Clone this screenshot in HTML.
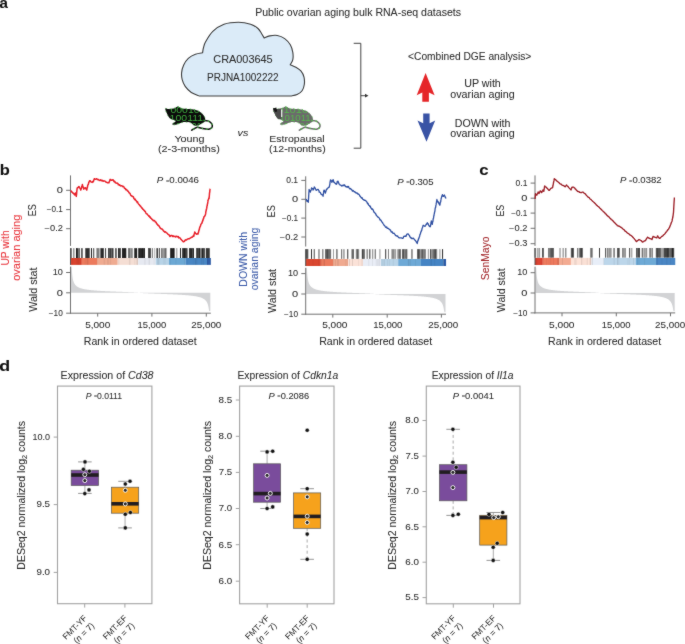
<!DOCTYPE html>
<html><head><meta charset="utf-8"><style>
html,body{margin:0;padding:0;background:#fff;overflow:hidden;width:685px;height:644px;}
svg{display:block;font-family:"Liberation Sans",sans-serif;will-change:transform;}
</style></head><body>
<svg width="685" height="644" viewBox="0 0 685 644">
<defs><filter id="soft" x="0" y="0" width="100%" height="100%" color-interpolation-filters="sRGB" filterUnits="userSpaceOnUse"><feConvolveMatrix order="3" kernelMatrix="1 2 1 2 28 2 1 2 1" edgeMode="duplicate"/></filter></defs>
<g filter="url(#soft)">
<rect width="685" height="644" fill="#fff"/>
<text x="-0.45" y="7.9" font-size="15" fill="#111" stroke="#111" stroke-width="0.06" textLength="8.42" lengthAdjust="spacingAndGlyphs" font-weight="bold">a</text>
<text x="-0.17" y="174.7" font-size="15" fill="#111" stroke="#111" stroke-width="0.06" textLength="10.04" lengthAdjust="spacingAndGlyphs" font-weight="bold">b</text>
<text x="479.23" y="174.7" font-size="15" fill="#111" stroke="#111" stroke-width="0.06" textLength="9.29" lengthAdjust="spacingAndGlyphs" font-weight="bold">c</text>
<text x="-0.71" y="370.8" font-size="15" fill="#111" stroke="#111" stroke-width="0.06" textLength="10.89" lengthAdjust="spacingAndGlyphs" font-weight="bold">d</text>
<text x="255.16" y="15.8" font-size="10.4" fill="#2c2c2c" stroke="#2c2c2c" stroke-width="0.06" textLength="205.83" lengthAdjust="spacingAndGlyphs">Public ovarian aging bulk RNA-seq datasets</text>
<path d="M199.50,96.00 C198.13,95.42 193.68,94.10 191.30,92.50 C188.92,90.90 186.72,88.53 185.20,86.40 C183.68,84.27 182.80,82.00 182.20,79.70 C181.60,77.40 181.35,75.07 181.60,72.60 C181.85,70.13 182.58,67.28 183.70,64.90 C184.82,62.52 186.35,60.08 188.30,58.30 C190.25,56.52 193.02,55.13 195.40,54.20 C197.78,53.27 201.40,52.95 202.60,52.70 L202.60,52.70 C202.73,51.92 202.88,49.85 203.40,48.00 C203.92,46.15 204.13,44.38 205.70,41.60 C207.27,38.82 209.75,34.20 212.80,31.30 C215.85,28.40 219.73,25.72 224.00,24.20 C228.27,22.68 233.97,22.20 238.40,22.20 C242.83,22.20 247.33,23.15 250.60,24.20 C253.87,25.25 256.18,26.95 258.00,28.50 C259.82,30.05 260.47,31.92 261.50,33.50 C262.53,35.08 263.75,37.25 264.20,38.00 L264.20,38.00 C265.13,37.65 267.62,36.32 269.80,35.90 C271.98,35.48 274.82,35.05 277.30,35.50 C279.78,35.95 282.53,37.05 284.70,38.60 C286.87,40.15 288.95,42.52 290.30,44.80 C291.65,47.08 292.38,49.82 292.80,52.30 C293.22,54.78 293.22,57.63 292.80,59.70 C292.38,61.77 290.72,63.87 290.30,64.70 L290.30,64.70 C291.23,65.12 294.13,66.17 295.90,67.20 C297.67,68.23 299.55,69.25 300.90,70.90 C302.25,72.55 303.43,74.83 304.00,77.10 C304.57,79.37 304.62,82.23 304.30,84.50 C303.98,86.77 303.30,89.03 302.10,90.70 C300.90,92.37 298.97,93.62 297.10,94.50 C295.23,95.38 291.93,95.75 290.90,96.00 Z" fill="#dbebf8" stroke="#3c3c3c" stroke-width="1.1"/>
<text x="213.25" y="62.6" font-size="10.0" fill="#2c2c2c" stroke="#2c2c2c" stroke-width="0.06" textLength="59.42" lengthAdjust="spacingAndGlyphs">CRA003645</text>
<text x="207.1" y="80.6" font-size="10.2" fill="#2c2c2c" stroke="#2c2c2c" stroke-width="0.06" textLength="71.41" lengthAdjust="spacingAndGlyphs">PRJNA1002222</text>
<path d="M353.7,43.3 H360.8 V148.2 H353.7" fill="none" stroke="#444" stroke-width="1"/>
<line x1="360.8" y1="95.7" x2="366" y2="95.7" stroke="#333" stroke-width="0.9"/>
<path d="M368.5,95.7 L365,93.8 L365,97.6 Z" fill="#333"/>
<path d="M425.6,73 L434.6,95.3 L428.9,92.6 L428.9,101.7 L422.3,101.7 L422.3,92.6 L416.7,95.3 Z" fill="#e52629"/>
<path d="M423.2,113.4 L429.6,113.4 L429.6,123.2 L435.2,120.6 L426.5,141.8 L417.5,120.6 L423.2,123.2 Z" fill="#3953a5"/>
<text x="408.09" y="60" font-size="10.2" fill="#2c2c2c" stroke="#2c2c2c" stroke-width="0.06" textLength="123.19" lengthAdjust="spacingAndGlyphs">&lt;Combined DGE analysis&gt;</text>
<text x="464.2" y="87.4" font-size="10.2" fill="#2c2c2c" stroke="#2c2c2c" stroke-width="0.06" textLength="36.62" lengthAdjust="spacingAndGlyphs">UP with</text>
<text x="450.27" y="97.6" font-size="10.2" fill="#2c2c2c" stroke="#2c2c2c" stroke-width="0.06" textLength="64.42" lengthAdjust="spacingAndGlyphs">ovarian aging</text>
<text x="454.75" y="126.9" font-size="10.2" fill="#2c2c2c" stroke="#2c2c2c" stroke-width="0.06" textLength="55.67" lengthAdjust="spacingAndGlyphs">DOWN with</text>
<text x="450.27" y="137.3" font-size="10.2" fill="#2c2c2c" stroke="#2c2c2c" stroke-width="0.06" textLength="64.42" lengthAdjust="spacingAndGlyphs">ovarian aging</text>
<defs><clipPath id="rat1"><path d="M165.50,108.40 C165.85,108.22 166.85,108.80 167.60,108.90 C168.35,109.00 169.00,109.07 170.00,109.00 C171.00,108.93 172.57,108.80 173.60,108.50 C174.63,108.20 175.50,107.53 176.20,107.20 C176.90,106.87 177.25,106.52 177.80,106.50 C178.35,106.48 178.83,106.78 179.50,107.10 C180.17,107.42 180.78,108.13 181.80,108.40 C182.82,108.67 183.65,108.53 185.60,108.70 C187.55,108.87 191.52,109.08 193.50,109.40 C195.48,109.72 196.18,110.00 197.50,110.60 C198.82,111.20 200.33,112.13 201.40,113.00 C202.47,113.87 203.27,114.83 203.90,115.80 C204.53,116.77 205.05,117.87 205.20,118.80 C205.35,119.73 205.17,120.73 204.80,121.40 C204.43,122.07 203.77,122.30 203.00,122.80 C202.23,123.30 201.10,123.93 200.20,124.40 C199.30,124.87 198.57,125.42 197.60,125.60 C196.63,125.78 195.23,125.73 194.40,125.50 C193.57,125.27 193.30,124.68 192.60,124.20 C191.90,123.72 191.30,122.95 190.20,122.60 C189.10,122.25 187.37,122.13 186.00,122.10 C184.63,122.07 183.13,122.17 182.00,122.40 C180.87,122.63 180.10,123.13 179.20,123.50 C178.30,123.87 177.60,124.38 176.60,124.60 C175.60,124.82 173.93,124.88 173.20,124.80 C172.47,124.72 172.15,124.40 172.20,124.10 C172.25,123.80 172.97,123.38 173.50,123.00 C174.03,122.62 175.12,122.22 175.40,121.80 C175.68,121.38 175.67,120.87 175.20,120.50 C174.73,120.13 173.47,119.95 172.60,119.60 C171.73,119.25 170.77,119.03 170.00,118.40 C169.23,117.77 168.58,116.77 168.00,115.80 C167.42,114.83 166.92,113.57 166.50,112.60 C166.08,111.63 165.67,110.70 165.50,110.00 C165.33,109.30 165.15,108.58 165.50,108.40 Z"/></clipPath><clipPath id="rat2"><path d="M165.50,108.40 C165.85,108.22 166.85,108.80 167.60,108.90 C168.35,109.00 169.00,109.07 170.00,109.00 C171.00,108.93 172.57,108.80 173.60,108.50 C174.63,108.20 175.50,107.53 176.20,107.20 C176.90,106.87 177.25,106.52 177.80,106.50 C178.35,106.48 178.83,106.78 179.50,107.10 C180.17,107.42 180.78,108.13 181.80,108.40 C182.82,108.67 183.65,108.53 185.60,108.70 C187.55,108.87 191.52,109.08 193.50,109.40 C195.48,109.72 196.18,110.00 197.50,110.60 C198.82,111.20 200.33,112.13 201.40,113.00 C202.47,113.87 203.27,114.83 203.90,115.80 C204.53,116.77 205.05,117.87 205.20,118.80 C205.35,119.73 205.17,120.73 204.80,121.40 C204.43,122.07 203.77,122.30 203.00,122.80 C202.23,123.30 201.10,123.93 200.20,124.40 C199.30,124.87 198.57,125.42 197.60,125.60 C196.63,125.78 195.23,125.73 194.40,125.50 C193.57,125.27 193.30,124.68 192.60,124.20 C191.90,123.72 191.30,122.95 190.20,122.60 C189.10,122.25 187.37,122.13 186.00,122.10 C184.63,122.07 183.13,122.17 182.00,122.40 C180.87,122.63 180.10,123.13 179.20,123.50 C178.30,123.87 177.60,124.38 176.60,124.60 C175.60,124.82 173.93,124.88 173.20,124.80 C172.47,124.72 172.15,124.40 172.20,124.10 C172.25,123.80 172.97,123.38 173.50,123.00 C174.03,122.62 175.12,122.22 175.40,121.80 C175.68,121.38 175.67,120.87 175.20,120.50 C174.73,120.13 173.47,119.95 172.60,119.60 C171.73,119.25 170.77,119.03 170.00,118.40 C169.23,117.77 168.58,116.77 168.00,115.80 C167.42,114.83 166.92,113.57 166.50,112.60 C166.08,111.63 165.67,110.70 165.50,110.00 C165.33,109.30 165.15,108.58 165.50,108.40 Z" transform="translate(107.7,0)"/></clipPath></defs>
<g transform="translate(0,0)"><path d="M165.50,108.40 C165.85,108.22 166.85,108.80 167.60,108.90 C168.35,109.00 169.00,109.07 170.00,109.00 C171.00,108.93 172.57,108.80 173.60,108.50 C174.63,108.20 175.50,107.53 176.20,107.20 C176.90,106.87 177.25,106.52 177.80,106.50 C178.35,106.48 178.83,106.78 179.50,107.10 C180.17,107.42 180.78,108.13 181.80,108.40 C182.82,108.67 183.65,108.53 185.60,108.70 C187.55,108.87 191.52,109.08 193.50,109.40 C195.48,109.72 196.18,110.00 197.50,110.60 C198.82,111.20 200.33,112.13 201.40,113.00 C202.47,113.87 203.27,114.83 203.90,115.80 C204.53,116.77 205.05,117.87 205.20,118.80 C205.35,119.73 205.17,120.73 204.80,121.40 C204.43,122.07 203.77,122.30 203.00,122.80 C202.23,123.30 201.10,123.93 200.20,124.40 C199.30,124.87 198.57,125.42 197.60,125.60 C196.63,125.78 195.23,125.73 194.40,125.50 C193.57,125.27 193.30,124.68 192.60,124.20 C191.90,123.72 191.30,122.95 190.20,122.60 C189.10,122.25 187.37,122.13 186.00,122.10 C184.63,122.07 183.13,122.17 182.00,122.40 C180.87,122.63 180.10,123.13 179.20,123.50 C178.30,123.87 177.60,124.38 176.60,124.60 C175.60,124.82 173.93,124.88 173.20,124.80 C172.47,124.72 172.15,124.40 172.20,124.10 C172.25,123.80 172.97,123.38 173.50,123.00 C174.03,122.62 175.12,122.22 175.40,121.80 C175.68,121.38 175.67,120.87 175.20,120.50 C174.73,120.13 173.47,119.95 172.60,119.60 C171.73,119.25 170.77,119.03 170.00,118.40 C169.23,117.77 168.58,116.77 168.00,115.80 C167.42,114.83 166.92,113.57 166.50,112.60 C166.08,111.63 165.67,110.70 165.50,110.00 C165.33,109.30 165.15,108.58 165.50,108.40 Z" fill="#0b0b0b"/><path d="M203.50,120.30 C204.20,120.40 206.47,120.50 207.70,120.90 C208.93,121.30 210.13,121.95 210.90,122.70 C211.67,123.45 212.17,124.55 212.30,125.40 C212.43,126.25 212.15,127.22 211.70,127.80 C211.25,128.38 210.53,128.68 209.60,128.90 C208.67,129.12 207.47,129.20 206.10,129.10 C204.73,129.00 202.83,128.60 201.40,128.30 C199.97,128.00 198.65,127.27 197.50,127.30 C196.35,127.33 195.48,128.02 194.50,128.50 C193.52,128.98 192.08,129.92 191.60,130.20" fill="none" stroke="#0b0b0b" stroke-width="1.5" stroke-linecap="round"/><path d="M203.50,120.30 C204.20,120.40 206.47,120.50 207.70,120.90 C208.93,121.30 210.13,121.95 210.90,122.70 C211.67,123.45 212.17,124.55 212.30,125.40 C212.43,126.25 212.15,127.22 211.70,127.80 C211.25,128.38 210.53,128.68 209.60,128.90 C208.67,129.12 207.47,129.20 206.10,129.10 C204.73,129.00 202.83,128.60 201.40,128.30 C199.97,128.00 198.65,127.27 197.50,127.30 C196.35,127.33 195.48,128.02 194.50,128.50 C193.52,128.98 192.08,129.92 191.60,130.20" fill="none" stroke="#40b040" stroke-width="1.5" stroke-dasharray="1.3 3.2"/><path d="M165.50,108.40 C165.85,108.22 166.85,108.80 167.60,108.90 C168.35,109.00 169.00,109.07 170.00,109.00 C171.00,108.93 172.57,108.80 173.60,108.50 C174.63,108.20 175.50,107.53 176.20,107.20 C176.90,106.87 177.25,106.52 177.80,106.50 C178.35,106.48 178.83,106.78 179.50,107.10 C180.17,107.42 180.78,108.13 181.80,108.40 C182.82,108.67 183.65,108.53 185.60,108.70 C187.55,108.87 191.52,109.08 193.50,109.40 C195.48,109.72 196.18,110.00 197.50,110.60 C198.82,111.20 200.33,112.13 201.40,113.00 C202.47,113.87 203.27,114.83 203.90,115.80 C204.53,116.77 205.05,117.87 205.20,118.80 C205.35,119.73 205.17,120.73 204.80,121.40 C204.43,122.07 203.77,122.30 203.00,122.80 C202.23,123.30 201.10,123.93 200.20,124.40 C199.30,124.87 198.57,125.42 197.60,125.60 C196.63,125.78 195.23,125.73 194.40,125.50 C193.57,125.27 193.30,124.68 192.60,124.20 C191.90,123.72 191.30,122.95 190.20,122.60 C189.10,122.25 187.37,122.13 186.00,122.10 C184.63,122.07 183.13,122.17 182.00,122.40 C180.87,122.63 180.10,123.13 179.20,123.50 C178.30,123.87 177.60,124.38 176.60,124.60 C175.60,124.82 173.93,124.88 173.20,124.80 C172.47,124.72 172.15,124.40 172.20,124.10 C172.25,123.80 172.97,123.38 173.50,123.00 C174.03,122.62 175.12,122.22 175.40,121.80 C175.68,121.38 175.67,120.87 175.20,120.50 C174.73,120.13 173.47,119.95 172.60,119.60 C171.73,119.25 170.77,119.03 170.00,118.40 C169.23,117.77 168.58,116.77 168.00,115.80 C167.42,114.83 166.92,113.57 166.50,112.60 C166.08,111.63 165.67,110.70 165.50,110.00 C165.33,109.30 165.15,108.58 165.50,108.40 Z" fill="none" stroke="#40b040" stroke-width="0.7" stroke-dasharray="1.4 2.8"/></g>
<g clip-path="url(#rat1)" fill="#40b040" stroke="#0b0b0b" stroke-width="0.05" font-size="9.4"><text x="170.5" y="113.0" textLength="29" lengthAdjust="spacingAndGlyphs">00010</text><text x="169.6" y="120.8" textLength="33.6" lengthAdjust="spacingAndGlyphs">100111</text><text x="176" y="128.8" textLength="36" lengthAdjust="spacingAndGlyphs">0100101</text></g>
<g transform="translate(107.7,0)"><path d="M165.50,108.40 C165.85,108.22 166.85,108.80 167.60,108.90 C168.35,109.00 169.00,109.07 170.00,109.00 C171.00,108.93 172.57,108.80 173.60,108.50 C174.63,108.20 175.50,107.53 176.20,107.20 C176.90,106.87 177.25,106.52 177.80,106.50 C178.35,106.48 178.83,106.78 179.50,107.10 C180.17,107.42 180.78,108.13 181.80,108.40 C182.82,108.67 183.65,108.53 185.60,108.70 C187.55,108.87 191.52,109.08 193.50,109.40 C195.48,109.72 196.18,110.00 197.50,110.60 C198.82,111.20 200.33,112.13 201.40,113.00 C202.47,113.87 203.27,114.83 203.90,115.80 C204.53,116.77 205.05,117.87 205.20,118.80 C205.35,119.73 205.17,120.73 204.80,121.40 C204.43,122.07 203.77,122.30 203.00,122.80 C202.23,123.30 201.10,123.93 200.20,124.40 C199.30,124.87 198.57,125.42 197.60,125.60 C196.63,125.78 195.23,125.73 194.40,125.50 C193.57,125.27 193.30,124.68 192.60,124.20 C191.90,123.72 191.30,122.95 190.20,122.60 C189.10,122.25 187.37,122.13 186.00,122.10 C184.63,122.07 183.13,122.17 182.00,122.40 C180.87,122.63 180.10,123.13 179.20,123.50 C178.30,123.87 177.60,124.38 176.60,124.60 C175.60,124.82 173.93,124.88 173.20,124.80 C172.47,124.72 172.15,124.40 172.20,124.10 C172.25,123.80 172.97,123.38 173.50,123.00 C174.03,122.62 175.12,122.22 175.40,121.80 C175.68,121.38 175.67,120.87 175.20,120.50 C174.73,120.13 173.47,119.95 172.60,119.60 C171.73,119.25 170.77,119.03 170.00,118.40 C169.23,117.77 168.58,116.77 168.00,115.80 C167.42,114.83 166.92,113.57 166.50,112.60 C166.08,111.63 165.67,110.70 165.50,110.00 C165.33,109.30 165.15,108.58 165.50,108.40 Z" fill="#6b6b6b"/><path d="M203.50,120.30 C204.20,120.40 206.47,120.50 207.70,120.90 C208.93,121.30 210.13,121.95 210.90,122.70 C211.67,123.45 212.17,124.55 212.30,125.40 C212.43,126.25 212.15,127.22 211.70,127.80 C211.25,128.38 210.53,128.68 209.60,128.90 C208.67,129.12 207.47,129.20 206.10,129.10 C204.73,129.00 202.83,128.60 201.40,128.30 C199.97,128.00 198.65,127.27 197.50,127.30 C196.35,127.33 195.48,128.02 194.50,128.50 C193.52,128.98 192.08,129.92 191.60,130.20" fill="none" stroke="#6b6b6b" stroke-width="1.5" stroke-linecap="round"/><path d="M203.50,120.30 C204.20,120.40 206.47,120.50 207.70,120.90 C208.93,121.30 210.13,121.95 210.90,122.70 C211.67,123.45 212.17,124.55 212.30,125.40 C212.43,126.25 212.15,127.22 211.70,127.80 C211.25,128.38 210.53,128.68 209.60,128.90 C208.67,129.12 207.47,129.20 206.10,129.10 C204.73,129.00 202.83,128.60 201.40,128.30 C199.97,128.00 198.65,127.27 197.50,127.30 C196.35,127.33 195.48,128.02 194.50,128.50 C193.52,128.98 192.08,129.92 191.60,130.20" fill="none" stroke="#55c04b" stroke-width="1.5" stroke-dasharray="1.3 3.2"/><path d="M165.50,108.40 C165.85,108.22 166.85,108.80 167.60,108.90 C168.35,109.00 169.00,109.07 170.00,109.00 C171.00,108.93 172.57,108.80 173.60,108.50 C174.63,108.20 175.50,107.53 176.20,107.20 C176.90,106.87 177.25,106.52 177.80,106.50 C178.35,106.48 178.83,106.78 179.50,107.10 C180.17,107.42 180.78,108.13 181.80,108.40 C182.82,108.67 183.65,108.53 185.60,108.70 C187.55,108.87 191.52,109.08 193.50,109.40 C195.48,109.72 196.18,110.00 197.50,110.60 C198.82,111.20 200.33,112.13 201.40,113.00 C202.47,113.87 203.27,114.83 203.90,115.80 C204.53,116.77 205.05,117.87 205.20,118.80 C205.35,119.73 205.17,120.73 204.80,121.40 C204.43,122.07 203.77,122.30 203.00,122.80 C202.23,123.30 201.10,123.93 200.20,124.40 C199.30,124.87 198.57,125.42 197.60,125.60 C196.63,125.78 195.23,125.73 194.40,125.50 C193.57,125.27 193.30,124.68 192.60,124.20 C191.90,123.72 191.30,122.95 190.20,122.60 C189.10,122.25 187.37,122.13 186.00,122.10 C184.63,122.07 183.13,122.17 182.00,122.40 C180.87,122.63 180.10,123.13 179.20,123.50 C178.30,123.87 177.60,124.38 176.60,124.60 C175.60,124.82 173.93,124.88 173.20,124.80 C172.47,124.72 172.15,124.40 172.20,124.10 C172.25,123.80 172.97,123.38 173.50,123.00 C174.03,122.62 175.12,122.22 175.40,121.80 C175.68,121.38 175.67,120.87 175.20,120.50 C174.73,120.13 173.47,119.95 172.60,119.60 C171.73,119.25 170.77,119.03 170.00,118.40 C169.23,117.77 168.58,116.77 168.00,115.80 C167.42,114.83 166.92,113.57 166.50,112.60 C166.08,111.63 165.67,110.70 165.50,110.00 C165.33,109.30 165.15,108.58 165.50,108.40 Z" fill="none" stroke="#55c04b" stroke-width="0.7" stroke-dasharray="1.4 2.8"/></g>
<g clip-path="url(#rat2)" fill="#55c04b" stroke="#6b6b6b" stroke-width="0.1" font-size="9.4"><text x="277.2" y="112.8" textLength="31" lengthAdjust="spacingAndGlyphs">01010</text><text x="279.2" y="120.8" textLength="31.5" lengthAdjust="spacingAndGlyphs">101011</text><text x="283.7" y="128.8" textLength="36" lengthAdjust="spacingAndGlyphs">0010110</text></g>
<g clip-path="url(#rat2)"><path d="M272,106 L281.2,106 L281.2,119 L272,119 Z" fill="#4a4a4a"/></g>
<rect x="281.0" y="109.4" width="1.3" height="7.6" fill="#e8e8e8"/>
<path d="M273.1,108.4 L276.3,107.4 L277.2,111.5 L275,112 Z" fill="#151515"/>
<text x="174.43" y="141.9" font-size="9.3" fill="#2c2c2c" stroke="#2c2c2c" stroke-width="0.06" textLength="30.17" lengthAdjust="spacingAndGlyphs">Young</text>
<text x="157.95" y="151.8" font-size="9.3" fill="#2c2c2c" stroke="#2c2c2c" stroke-width="0.06" textLength="61.94" lengthAdjust="spacingAndGlyphs">(2-3-months)</text>
<text x="237.61" y="135.6" font-size="9.6" fill="#2c2c2c" stroke="#2c2c2c" stroke-width="0.06" textLength="10.7" lengthAdjust="spacingAndGlyphs" font-style="italic">vs</text>
<text x="269.36" y="141.9" font-size="9.3" fill="#2c2c2c" stroke="#2c2c2c" stroke-width="0.06" textLength="55.33" lengthAdjust="spacingAndGlyphs">Estropausal</text>
<text x="268.97" y="151.8" font-size="9.3" fill="#2c2c2c" stroke="#2c2c2c" stroke-width="0.06" textLength="56.67" lengthAdjust="spacingAndGlyphs">(12-months)</text>
<line x1="70.5" y1="175.4" x2="70.5" y2="245.9" stroke="#707070" stroke-width="1"/>
<line x1="66.1" y1="190.3" x2="70.5" y2="190.3" stroke="#707070" stroke-width="1"/>
<text x="56.76" y="193.05" font-size="8.3" fill="#2c2c2c" stroke="#2c2c2c" stroke-width="0.06" textLength="6.14" lengthAdjust="spacingAndGlyphs">0</text>
<line x1="66.1" y1="209.6" x2="70.5" y2="209.6" stroke="#707070" stroke-width="1"/>
<text x="46.79" y="212.35" font-size="8.3" fill="#2c2c2c" stroke="#2c2c2c" stroke-width="0.06" textLength="16.07" lengthAdjust="spacingAndGlyphs">−0.1</text>
<line x1="66.1" y1="228.7" x2="70.5" y2="228.7" stroke="#707070" stroke-width="1"/>
<text x="44.64" y="231.45" font-size="8.3" fill="#2c2c2c" stroke="#2c2c2c" stroke-width="0.06" textLength="18.32" lengthAdjust="spacingAndGlyphs">−0.2</text>
<path d="M70.60,190.40 L71.10,191.01 L71.60,192.02 L72.10,192.09 L72.60,192.61 L73.10,193.26 L73.60,193.34 L74.10,194.21 L74.60,194.95 L75.00,194.52 L75.40,193.07 L75.62,193.85 L75.85,194.26 L76.08,195.74 L76.30,196.38 L76.37,194.98 L76.44,195.39 L76.51,194.91 L76.58,193.95 L76.65,193.24 L76.72,192.07 L76.78,191.21 L76.85,191.18 L76.92,190.09 L76.99,189.57 L77.06,189.04 L77.13,188.19 L77.20,188.06 L77.62,187.66 L78.05,187.70 L78.48,186.93 L78.90,186.58 L79.26,187.05 L79.62,187.84 L79.98,188.24 L80.34,188.61 L80.70,190.06 L80.94,189.55 L81.19,188.75 L81.43,187.94 L81.67,186.81 L81.91,186.01 L82.16,185.42 L82.40,184.54 L82.63,185.92 L82.87,186.18 L83.10,187.25 L83.33,187.36 L83.57,188.55 L83.80,189.10 L84.65,187.88 L85.50,187.77 L85.93,189.06 L86.37,189.09 L86.80,190.08 L86.96,188.81 L87.12,187.68 L87.29,187.63 L87.45,187.25 L87.61,186.03 L87.77,185.07 L87.94,184.67 L88.10,184.81 L88.40,184.10 L88.70,182.73 L89.00,182.19 L89.30,181.43 L89.60,180.78 L89.90,181.07 L90.33,180.88 L90.75,181.67 L91.17,182.01 L91.60,182.12 L92.20,182.42 L92.80,181.49 L93.40,181.71 L93.62,180.51 L93.85,180.14 L94.08,179.28 L94.30,178.67 L95.15,179.32 L96.00,179.04 L96.65,178.76 L97.30,179.69 L97.95,179.29 L98.60,179.73 L99.27,180.40 L99.95,180.33 L100.62,179.75 L101.30,180.82 L101.88,180.25 L102.47,180.40 L103.05,181.23 L103.63,181.00 L104.22,181.11 L104.80,181.05 L105.37,181.33 L105.93,182.21 L106.50,182.19 L107.23,182.71 L107.97,182.62 L108.70,182.82 L108.96,182.84 L109.22,181.76 L109.48,181.20 L109.74,180.95 L110.00,179.59 L110.67,179.44 L111.35,180.32 L112.03,180.34 L112.70,179.67 L113.22,179.93 L113.74,181.01 L114.26,181.78 L114.78,181.38 L115.30,182.60 L115.80,183.00 L116.30,183.05 L116.80,183.15 L117.30,183.10 L117.80,183.33 L118.30,184.79 L118.80,184.46 L119.34,185.16 L119.89,184.95 L120.43,185.82 L120.98,185.89 L121.52,185.76 L122.07,185.81 L122.61,186.69 L123.16,186.26 L123.70,186.60 L124.13,187.47 L124.56,188.35 L124.99,188.59 L125.42,188.61 L125.85,189.77 L126.28,189.48 L126.72,189.61 L127.15,190.32 L127.58,191.03 L128.01,191.07 L128.44,191.61 L128.87,192.31 L129.30,193.05 L129.72,193.03 L130.13,193.70 L130.55,194.83 L130.97,195.51 L131.38,195.62 L131.80,196.07 L132.22,196.41 L132.63,196.32 L133.05,196.58 L133.47,197.00 L133.88,198.52 L134.30,198.90 L134.72,199.67 L135.13,199.05 L135.55,200.09 L135.97,200.46 L136.38,201.21 L136.80,201.22 L137.18,202.44 L137.56,201.91 L137.95,202.80 L138.33,203.56 L138.71,204.26 L139.09,204.57 L139.47,204.98 L139.85,205.54 L140.24,206.17 L140.62,205.99 L141.00,206.76 L141.38,207.53 L141.76,208.01 L142.15,207.93 L142.53,208.77 L142.91,209.38 L143.29,209.52 L143.67,210.00 L144.05,210.18 L144.44,210.85 L144.82,211.37 L145.20,211.22 L145.60,212.26 L146.00,213.23 L146.40,213.64 L146.80,213.91 L147.20,213.94 L147.60,214.76 L148.00,215.09 L148.40,215.36 L148.80,216.28 L149.20,215.90 L149.60,217.04 L150.00,216.74 L150.40,217.78 L150.80,218.18 L151.31,218.28 L151.82,219.21 L152.33,219.46 L152.84,219.99 L153.36,220.78 L153.87,220.45 L154.38,220.46 L154.89,221.16 L155.40,222.06 L155.80,222.04 L156.20,222.40 L156.60,223.73 L157.00,224.04 L157.40,224.23 L157.80,225.19 L158.20,225.06 L158.60,225.85 L159.00,225.81 L159.40,226.48 L159.80,227.43 L160.20,228.11 L160.60,228.57 L161.00,228.44 L161.47,228.97 L161.93,229.06 L162.40,229.18 L162.87,229.96 L163.33,230.81 L163.80,231.28 L164.27,231.51 L164.73,232.16 L165.20,231.77 L165.67,231.91 L166.13,232.59 L166.60,232.81 L167.09,233.10 L167.57,233.71 L168.06,234.38 L168.54,234.65 L169.03,234.81 L169.51,235.79 L170.00,236.43 L170.62,235.92 L171.23,235.46 L171.85,235.41 L172.47,236.49 L173.08,235.72 L173.70,236.48 L174.37,236.54 L175.04,236.34 L175.71,237.00 L176.39,236.28 L177.06,236.43 L177.73,236.94 L178.40,236.61 L178.87,237.89 L179.33,237.70 L179.80,237.88 L180.27,238.12 L180.73,239.18 L181.20,239.45 L181.67,240.03 L182.13,240.47 L182.60,241.05 L183.07,241.64 L183.53,241.73 L184.00,241.49 L184.45,241.27 L184.90,240.50 L185.35,239.80 L185.80,239.87 L186.50,239.99 L187.20,239.15 L187.90,238.92 L188.60,238.77 L189.16,238.84 L189.72,238.33 L190.28,238.07 L190.84,237.89 L191.40,237.12 L192.00,237.19 L192.60,237.04 L193.20,235.74 L193.80,236.26 L193.95,235.52 L194.10,234.17 L194.25,233.84 L194.40,233.47 L194.55,233.23 L194.70,232.03 L195.17,232.64 L195.63,233.50 L196.10,233.93 L196.73,234.23 L197.37,233.81 L198.00,234.09 L198.15,232.99 L198.30,232.95 L198.45,232.56 L198.60,231.80 L198.75,231.28 L198.90,230.10 L199.05,230.25 L199.20,229.88 L199.35,229.32 L199.50,228.21 L199.65,227.85 L199.80,226.74 L200.10,226.79 L200.40,226.25 L200.70,225.07 L201.00,224.08 L201.30,223.88 L201.60,223.49 L201.90,223.20 L202.20,222.33 L202.40,221.17 L202.60,221.45 L202.80,220.12 L203.00,220.32 L203.20,219.12 L203.40,218.65 L203.60,218.64 L203.80,217.38 L204.00,216.72 L204.28,216.59 L204.56,216.34 L204.84,215.97 L205.12,215.25 L205.40,214.98 L205.53,213.84 L205.65,213.68 L205.78,212.08 L205.91,211.46 L206.04,211.19 L206.16,210.33 L206.29,210.18 L206.42,209.51 L206.55,208.73 L206.67,208.46 L206.80,207.54 L206.92,206.57 L207.03,205.98 L207.15,205.91 L207.27,205.44 L207.38,204.01 L207.50,204.03 L207.62,203.64 L207.73,202.52 L207.85,201.88 L207.97,200.81 L208.08,200.52 L208.20,199.90 L208.50,199.39 L208.80,198.09 L209.10,198.48 L209.16,197.48 L209.21,196.67 L209.27,196.51 L209.32,195.68 L209.38,194.95 L209.43,194.56 L209.49,193.24 L209.54,193.08 L209.60,192.39 L209.68,192.40 L209.77,191.82 L209.85,190.41 L209.93,189.91 L210.02,188.88 L210.10,188.70" fill="none" stroke="#e8202a" stroke-width="1.5" stroke-linejoin="round"/>
<rect x="70.7" y="248.2" width="0.8" height="9.8" fill="#262626"/>
<rect x="70.7" y="248.2" width="0.6" height="9.8" fill="#5a5a5a"/>
<rect x="73.4" y="248.2" width="1.1" height="9.8" fill="#8c8c8c"/>
<rect x="73.4" y="248.2" width="0.4" height="9.8" fill="#666666"/>
<rect x="76.1" y="248.2" width="2.2" height="9.8" fill="#262626"/>
<rect x="76.1" y="248.2" width="0.8" height="9.8" fill="#101010"/>
<rect x="77.8" y="248.2" width="0.4" height="9.8" fill="#707070"/>
<rect x="78.8" y="248.2" width="0.8" height="9.8" fill="#262626"/>
<rect x="78.8" y="248.2" width="0.4" height="9.8" fill="#181818"/>
<rect x="81.5" y="248.2" width="1.1" height="9.8" fill="#262626"/>
<rect x="81.5" y="248.2" width="0.4" height="9.8" fill="#101010"/>
<rect x="85.3" y="248.2" width="4.3" height="9.8" fill="#262626"/>
<rect x="85.3" y="248.2" width="0.6" height="9.8" fill="#707070"/>
<rect x="86.8" y="248.2" width="0.4" height="9.8" fill="#5a5a5a"/>
<rect x="88.4" y="248.2" width="0.4" height="9.8" fill="#444444"/>
<rect x="89.1" y="248.2" width="0.5" height="9.8" fill="#5a5a5a"/>
<rect x="91.2" y="248.2" width="0.8" height="9.8" fill="#262626"/>
<rect x="91.2" y="248.2" width="0.8" height="9.8" fill="#181818"/>
<rect x="93.4" y="248.2" width="0.8" height="9.8" fill="#262626"/>
<rect x="93.4" y="248.2" width="0.4" height="9.8" fill="#444444"/>
<rect x="96.1" y="248.2" width="3.2" height="9.8" fill="#8c8c8c"/>
<rect x="96.1" y="248.2" width="0.8" height="9.8" fill="#b8b8b8"/>
<rect x="97.5" y="248.2" width="0.8" height="9.8" fill="#666666"/>
<rect x="98.9" y="248.2" width="0.4" height="9.8" fill="#666666"/>
<rect x="100.4" y="248.2" width="3.2" height="9.8" fill="#262626"/>
<rect x="100.4" y="248.2" width="0.4" height="9.8" fill="#707070"/>
<rect x="101.7" y="248.2" width="0.4" height="9.8" fill="#303030"/>
<rect x="103" y="248.2" width="0.4" height="9.8" fill="#181818"/>
<rect x="105.3" y="248.2" width="0.8" height="9.8" fill="#262626"/>
<rect x="105.3" y="248.2" width="0.4" height="9.8" fill="#181818"/>
<rect x="108" y="248.2" width="5.4" height="9.8" fill="#262626"/>
<rect x="108" y="248.2" width="0.4" height="9.8" fill="#707070"/>
<rect x="108.7" y="248.2" width="0.6" height="9.8" fill="#444444"/>
<rect x="109.6" y="248.2" width="0.6" height="9.8" fill="#909090"/>
<rect x="111.4" y="248.2" width="0.8" height="9.8" fill="#909090"/>
<rect x="112.8" y="248.2" width="0.4" height="9.8" fill="#444444"/>
<rect x="115.5" y="248.2" width="1.1" height="9.8" fill="#262626"/>
<rect x="115.5" y="248.2" width="0.4" height="9.8" fill="#181818"/>
<rect x="118.2" y="248.2" width="2.7" height="9.8" fill="#262626"/>
<rect x="118.2" y="248.2" width="0.6" height="9.8" fill="#101010"/>
<rect x="119.7" y="248.2" width="0.8" height="9.8" fill="#707070"/>
<rect x="122" y="248.2" width="4.3" height="9.8" fill="#262626"/>
<rect x="122" y="248.2" width="0.4" height="9.8" fill="#444444"/>
<rect x="122.7" y="248.2" width="0.4" height="9.8" fill="#101010"/>
<rect x="124.3" y="248.2" width="0.4" height="9.8" fill="#181818"/>
<rect x="125.3" y="248.2" width="0.4" height="9.8" fill="#181818"/>
<rect x="128" y="248.2" width="4.8" height="9.8" fill="#8c8c8c"/>
<rect x="128" y="248.2" width="0.4" height="9.8" fill="#808080"/>
<rect x="128.7" y="248.2" width="0.8" height="9.8" fill="#505050"/>
<rect x="130.1" y="248.2" width="0.8" height="9.8" fill="#a0a0a0"/>
<rect x="131.2" y="248.2" width="0.4" height="9.8" fill="#808080"/>
<rect x="134.4" y="248.2" width="2.7" height="9.8" fill="#262626"/>
<rect x="134.4" y="248.2" width="0.6" height="9.8" fill="#444444"/>
<rect x="135.9" y="248.2" width="0.6" height="9.8" fill="#181818"/>
<rect x="138.2" y="248.2" width="6.7" height="9.8" fill="#262626"/>
<rect x="138.2" y="248.2" width="0.4" height="9.8" fill="#707070"/>
<rect x="138.9" y="248.2" width="0.4" height="9.8" fill="#181818"/>
<rect x="140.5" y="248.2" width="0.6" height="9.8" fill="#303030"/>
<rect x="142" y="248.2" width="0.6" height="9.8" fill="#181818"/>
<rect x="143.2" y="248.2" width="0.4" height="9.8" fill="#5a5a5a"/>
<rect x="143.9" y="248.2" width="0.6" height="9.8" fill="#101010"/>
<rect x="148.1" y="248.2" width="2.7" height="9.8" fill="#262626"/>
<rect x="148.1" y="248.2" width="0.8" height="9.8" fill="#5a5a5a"/>
<rect x="149.5" y="248.2" width="0.8" height="9.8" fill="#5a5a5a"/>
<rect x="151.9" y="248.2" width="1.1" height="9.8" fill="#8c8c8c"/>
<rect x="151.9" y="248.2" width="0.6" height="9.8" fill="#808080"/>
<rect x="154" y="248.2" width="1.1" height="9.8" fill="#8c8c8c"/>
<rect x="154" y="248.2" width="0.8" height="9.8" fill="#cccccc"/>
<rect x="156.7" y="248.2" width="1.1" height="9.8" fill="#262626"/>
<rect x="156.7" y="248.2" width="0.6" height="9.8" fill="#181818"/>
<rect x="158.9" y="248.2" width="1.1" height="9.8" fill="#262626"/>
<rect x="158.9" y="248.2" width="0.8" height="9.8" fill="#707070"/>
<rect x="161.1" y="248.2" width="5.9" height="9.8" fill="#8c8c8c"/>
<rect x="161.1" y="248.2" width="0.6" height="9.8" fill="#666666"/>
<rect x="162.9" y="248.2" width="0.4" height="9.8" fill="#cccccc"/>
<rect x="163.9" y="248.2" width="0.4" height="9.8" fill="#808080"/>
<rect x="165.2" y="248.2" width="0.6" height="9.8" fill="#505050"/>
<rect x="166.1" y="248.2" width="0.6" height="9.8" fill="#cccccc"/>
<rect x="170.2" y="248.2" width="4.4" height="9.8" fill="#262626"/>
<rect x="170.2" y="248.2" width="0.4" height="9.8" fill="#303030"/>
<rect x="171.5" y="248.2" width="0.6" height="9.8" fill="#181818"/>
<rect x="173.3" y="248.2" width="0.8" height="9.8" fill="#181818"/>
<rect x="176.2" y="248.2" width="1.1" height="9.8" fill="#8c8c8c"/>
<rect x="176.2" y="248.2" width="0.6" height="9.8" fill="#b8b8b8"/>
<rect x="180" y="248.2" width="0.8" height="9.8" fill="#262626"/>
<rect x="180" y="248.2" width="0.8" height="9.8" fill="#181818"/>
<rect x="182.1" y="248.2" width="5.4" height="9.8" fill="#262626"/>
<rect x="182.1" y="248.2" width="0.6" height="9.8" fill="#5a5a5a"/>
<rect x="183" y="248.2" width="0.4" height="9.8" fill="#5a5a5a"/>
<rect x="183.7" y="248.2" width="0.8" height="9.8" fill="#181818"/>
<rect x="185.4" y="248.2" width="0.6" height="9.8" fill="#444444"/>
<rect x="186.3" y="248.2" width="0.4" height="9.8" fill="#707070"/>
<rect x="189.2" y="248.2" width="4.8" height="9.8" fill="#262626"/>
<rect x="189.2" y="248.2" width="0.4" height="9.8" fill="#101010"/>
<rect x="190.5" y="248.2" width="0.6" height="9.8" fill="#303030"/>
<rect x="192" y="248.2" width="0.8" height="9.8" fill="#5a5a5a"/>
<rect x="196.2" y="248.2" width="4.3" height="9.8" fill="#262626"/>
<rect x="196.2" y="248.2" width="0.8" height="9.8" fill="#5a5a5a"/>
<rect x="197.3" y="248.2" width="0.8" height="9.8" fill="#444444"/>
<rect x="198.4" y="248.2" width="0.8" height="9.8" fill="#5a5a5a"/>
<rect x="199.5" y="248.2" width="0.6" height="9.8" fill="#181818"/>
<rect x="201.6" y="248.2" width="3.2" height="9.8" fill="#262626"/>
<rect x="201.6" y="248.2" width="0.6" height="9.8" fill="#181818"/>
<rect x="203.4" y="248.2" width="0.8" height="9.8" fill="#5a5a5a"/>
<rect x="205.9" y="248.2" width="3.8" height="9.8" fill="#262626"/>
<rect x="205.9" y="248.2" width="0.6" height="9.8" fill="#444444"/>
<rect x="207.7" y="248.2" width="0.6" height="9.8" fill="#5a5a5a"/>
<rect x="70.5" y="258" width="11.35" height="6.9" fill="#d9432e"/>
<rect x="81.8" y="258" width="15.25" height="6.9" fill="#ec7a5c"/>
<rect x="97" y="258" width="20.75" height="6.9" fill="#efab91"/>
<rect x="117.7" y="258" width="20.55" height="6.9" fill="#f5ded4"/>
<rect x="138.2" y="258" width="17.55" height="6.9" fill="#e6e9f1"/>
<rect x="155.7" y="258" width="13.35" height="6.9" fill="#b7d3e7"/>
<rect x="169" y="258" width="16.45" height="6.9" fill="#6ca8d4"/>
<rect x="185.4" y="258" width="21.65" height="6.9" fill="#4886c3"/>
<rect x="207" y="258" width="3.85" height="6.9" fill="#2f5da7"/>
<rect x="153.78" y="258" width="0.62" height="6.9" fill="#000" fill-opacity="0.07"/>
<rect x="110.31" y="258" width="0.79" height="6.9" fill="#000" fill-opacity="0.07"/>
<rect x="148.6" y="258" width="0.57" height="6.9" fill="#000" fill-opacity="0.07"/>
<rect x="170.32" y="258" width="0.58" height="6.9" fill="#000" fill-opacity="0.07"/>
<rect x="72.45" y="258" width="0.55" height="6.9" fill="#000" fill-opacity="0.07"/>
<rect x="76.46" y="258" width="0.49" height="6.9" fill="#000" fill-opacity="0.07"/>
<rect x="175.62" y="258" width="0.63" height="6.9" fill="#000" fill-opacity="0.07"/>
<rect x="195.53" y="258" width="0.85" height="6.9" fill="#000" fill-opacity="0.07"/>
<rect x="77.49" y="258" width="0.99" height="6.9" fill="#000" fill-opacity="0.07"/>
<rect x="202.06" y="258" width="0.44" height="6.9" fill="#000" fill-opacity="0.07"/>
<rect x="196.64" y="258" width="0.66" height="6.9" fill="#000" fill-opacity="0.07"/>
<rect x="137.03" y="258" width="0.98" height="6.9" fill="#000" fill-opacity="0.07"/>
<rect x="104.45" y="258" width="0.71" height="6.9" fill="#000" fill-opacity="0.07"/>
<rect x="201.06" y="258" width="0.83" height="6.9" fill="#000" fill-opacity="0.07"/>
<rect x="135.74" y="258" width="0.99" height="6.9" fill="#000" fill-opacity="0.07"/>
<rect x="184.27" y="258" width="0.76" height="6.9" fill="#000" fill-opacity="0.07"/>
<rect x="86.53" y="258" width="0.77" height="6.9" fill="#000" fill-opacity="0.07"/>
<rect x="133.98" y="258" width="0.52" height="6.9" fill="#000" fill-opacity="0.07"/>
<rect x="77.75" y="258" width="0.72" height="6.9" fill="#000" fill-opacity="0.07"/>
<rect x="87.82" y="258" width="0.67" height="6.9" fill="#000" fill-opacity="0.07"/>
<rect x="163.54" y="258" width="0.67" height="6.9" fill="#000" fill-opacity="0.07"/>
<rect x="107.01" y="258" width="0.75" height="6.9" fill="#000" fill-opacity="0.07"/>
<rect x="128.94" y="258" width="0.87" height="6.9" fill="#000" fill-opacity="0.07"/>
<rect x="144.44" y="258" width="1" height="6.9" fill="#000" fill-opacity="0.07"/>
<rect x="203.2" y="258" width="0.84" height="6.9" fill="#000" fill-opacity="0.07"/>
<rect x="103.71" y="258" width="0.47" height="6.9" fill="#000" fill-opacity="0.07"/>
<rect x="194.85" y="258" width="0.87" height="6.9" fill="#000" fill-opacity="0.07"/>
<rect x="157.56" y="258" width="0.62" height="6.9" fill="#000" fill-opacity="0.07"/>
<rect x="108.32" y="258" width="0.81" height="6.9" fill="#000" fill-opacity="0.07"/>
<rect x="149.19" y="258" width="0.76" height="6.9" fill="#000" fill-opacity="0.07"/>
<rect x="158.69" y="258" width="0.85" height="6.9" fill="#000" fill-opacity="0.07"/>
<rect x="96.94" y="258" width="0.55" height="6.9" fill="#000" fill-opacity="0.07"/>
<rect x="206.98" y="258" width="0.95" height="6.9" fill="#000" fill-opacity="0.07"/>
<rect x="192.91" y="258" width="0.42" height="6.9" fill="#000" fill-opacity="0.07"/>
<rect x="78.97" y="258" width="0.56" height="6.9" fill="#000" fill-opacity="0.07"/>
<rect x="129.73" y="258" width="0.77" height="6.9" fill="#000" fill-opacity="0.07"/>
<rect x="84.77" y="258" width="0.72" height="6.9" fill="#000" fill-opacity="0.07"/>
<rect x="80.6" y="258" width="0.45" height="6.9" fill="#000" fill-opacity="0.07"/>
<rect x="164.71" y="258" width="0.73" height="6.9" fill="#000" fill-opacity="0.07"/>
<rect x="158.41" y="258" width="0.62" height="6.9" fill="#000" fill-opacity="0.07"/>
<rect x="137.16" y="258" width="0.53" height="6.9" fill="#000" fill-opacity="0.07"/>
<rect x="118.38" y="258" width="0.85" height="6.9" fill="#000" fill-opacity="0.07"/>
<rect x="187.31" y="258" width="0.44" height="6.9" fill="#000" fill-opacity="0.07"/>
<rect x="87.19" y="258" width="0.89" height="6.9" fill="#000" fill-opacity="0.07"/>
<rect x="157.39" y="258" width="0.86" height="6.9" fill="#000" fill-opacity="0.07"/>
<line x1="70.5" y1="248.2" x2="70.5" y2="264.9" stroke="#444" stroke-width="0.9"/>
<path d="M71.0,292.8 L71.00,266.61 L71.35,266.61 L71.70,267.10 L72.04,272.99 L72.39,276.34 L72.74,278.55 L73.09,280.13 L73.44,281.34 L73.79,282.29 L74.13,283.07 L74.48,283.72 L74.83,284.27 L75.18,284.74 L75.53,285.16 L75.88,285.53 L76.22,285.85 L76.57,286.14 L76.92,286.41 L77.27,286.65 L77.62,286.87 L77.97,287.07 L78.31,287.26 L78.66,287.43 L79.01,287.59 L79.36,287.74 L79.71,287.88 L80.05,288.01 L80.40,288.13 L80.75,288.25 L81.10,288.36 L81.45,288.46 L81.80,288.56 L82.14,288.66 L82.49,288.75 L82.84,288.83 L83.19,288.91 L83.54,288.99 L83.89,289.06 L84.23,289.13 L84.58,289.20 L84.93,289.27 L85.28,289.33 L85.63,289.39 L85.97,289.45 L86.32,289.51 L86.67,289.56 L87.02,289.61 L87.37,289.67 L87.72,289.72 L88.06,289.76 L88.41,289.81 L88.76,289.85 L89.11,289.90 L89.46,289.94 L89.81,289.98 L90.15,290.02 L90.50,290.06 L90.85,290.10 L91.20,290.14 L91.55,290.17 L91.89,290.21 L92.24,290.24 L92.59,290.27 L92.94,290.31 L93.29,290.34 L93.64,290.37 L93.98,290.40 L94.33,290.43 L94.68,290.46 L95.03,290.49 L95.38,290.52 L95.73,290.55 L96.07,290.57 L96.42,290.60 L96.77,290.62 L97.12,290.65 L97.47,290.68 L97.82,290.70 L98.16,290.72 L98.51,290.75 L98.86,290.77 L99.21,290.79 L99.56,290.82 L99.90,290.84 L100.25,290.86 L100.60,290.88 L100.95,290.90 L101.30,290.92 L101.65,290.95 L101.99,290.97 L102.34,290.99 L102.69,291.01 L103.04,291.03 L103.39,291.04 L103.74,291.06 L104.08,291.08 L104.43,291.10 L104.78,291.12 L105.13,291.14 L105.48,291.16 L105.83,291.17 L106.17,291.19 L106.52,291.21 L106.87,291.23 L107.22,291.24 L107.57,291.26 L107.91,291.28 L108.26,291.29 L108.61,291.31 L108.96,291.32 L109.31,291.34 L109.66,291.36 L110.00,291.37 L110.35,291.39 L110.70,291.40 L111.05,291.42 L111.40,291.43 L111.75,291.45 L112.09,291.46 L112.44,291.48 L112.79,291.49 L113.14,291.51 L113.49,291.52 L113.83,291.54 L114.18,291.55 L114.53,291.57 L114.88,291.58 L115.23,291.60 L115.58,291.61 L115.92,291.62 L116.27,291.64 L116.62,291.65 L116.97,291.67 L117.32,291.68 L117.67,291.69 L118.01,291.71 L118.36,291.72 L118.71,291.74 L119.06,291.75 L119.41,291.76 L119.75,291.78 L120.10,291.79 L120.45,291.81 L120.80,291.82 L121.15,291.83 L121.50,291.85 L121.84,291.86 L122.19,291.87 L122.54,291.89 L122.89,291.90 L123.24,291.91 L123.59,291.93 L123.93,291.94 L124.28,291.96 L124.63,291.97 L124.98,291.98 L125.33,292.00 L125.68,292.01 L126.02,292.03 L126.37,292.04 L126.72,292.05 L127.07,292.07 L127.42,292.08 L127.76,292.10 L128.11,292.11 L128.46,292.13 L128.81,292.14 L129.16,292.15 L129.51,292.17 L129.85,292.18 L130.20,292.20 L130.55,292.22 L130.90,292.23 L131.25,292.25 L131.60,292.26 L131.94,292.28 L132.29,292.29 L132.64,292.31 L132.99,292.33 L133.34,292.35 L133.69,292.36 L134.03,292.38 L134.38,292.40 L134.73,292.42 L135.08,292.44 L135.43,292.46 L135.77,292.48 L136.12,292.50 L136.47,292.52 L136.82,292.54 L137.17,292.57 L137.52,292.59 L137.86,292.62 L138.21,292.65 L138.56,292.68 L138.91,292.73 L139.26,292.80 L139.61,292.87 L139.95,292.91 L140.30,292.95 L140.65,292.98 L141.00,293.00 L141.35,293.03 L141.69,293.05 L142.04,293.07 L142.39,293.09 L142.74,293.11 L143.09,293.13 L143.44,293.15 L143.78,293.17 L144.13,293.19 L144.48,293.21 L144.83,293.23 L145.18,293.24 L145.53,293.26 L145.87,293.28 L146.22,293.29 L146.57,293.31 L146.92,293.32 L147.27,293.34 L147.62,293.35 L147.96,293.37 L148.31,293.38 L148.66,293.40 L149.01,293.41 L149.36,293.43 L149.70,293.44 L150.05,293.46 L150.40,293.47 L150.75,293.49 L151.10,293.50 L151.45,293.51 L151.79,293.53 L152.14,293.54 L152.49,293.55 L152.84,293.57 L153.19,293.58 L153.54,293.59 L153.88,293.61 L154.23,293.62 L154.58,293.63 L154.93,293.65 L155.28,293.66 L155.62,293.67 L155.97,293.69 L156.32,293.70 L156.67,293.71 L157.02,293.73 L157.37,293.74 L157.71,293.75 L158.06,293.77 L158.41,293.78 L158.76,293.79 L159.11,293.81 L159.46,293.82 L159.80,293.83 L160.15,293.84 L160.50,293.86 L160.85,293.87 L161.20,293.88 L161.55,293.90 L161.89,293.91 L162.24,293.92 L162.59,293.94 L162.94,293.95 L163.29,293.97 L163.63,293.98 L163.98,293.99 L164.33,294.01 L164.68,294.02 L165.03,294.03 L165.38,294.05 L165.72,294.06 L166.07,294.08 L166.42,294.09 L166.77,294.10 L167.12,294.12 L167.47,294.13 L167.81,294.15 L168.16,294.16 L168.51,294.18 L168.86,294.19 L169.21,294.21 L169.55,294.22 L169.90,294.24 L170.25,294.25 L170.60,294.27 L170.95,294.28 L171.30,294.30 L171.64,294.31 L171.99,294.33 L172.34,294.35 L172.69,294.36 L173.04,294.38 L173.39,294.39 L173.73,294.41 L174.08,294.43 L174.43,294.45 L174.78,294.46 L175.13,294.48 L175.48,294.50 L175.82,294.52 L176.17,294.53 L176.52,294.55 L176.87,294.57 L177.22,294.59 L177.56,294.61 L177.91,294.63 L178.26,294.65 L178.61,294.67 L178.96,294.69 L179.31,294.71 L179.65,294.73 L180.00,294.75 L180.35,294.77 L180.70,294.79 L181.05,294.81 L181.40,294.83 L181.74,294.86 L182.09,294.88 L182.44,294.90 L182.79,294.93 L183.14,294.95 L183.48,294.98 L183.83,295.00 L184.18,295.03 L184.53,295.05 L184.88,295.08 L185.23,295.11 L185.57,295.13 L185.92,295.16 L186.27,295.19 L186.62,295.22 L186.97,295.25 L187.32,295.28 L187.66,295.31 L188.01,295.34 L188.36,295.37 L188.71,295.41 L189.06,295.44 L189.41,295.48 L189.75,295.51 L190.10,295.55 L190.45,295.59 L190.80,295.63 L191.15,295.67 L191.49,295.71 L191.84,295.75 L192.19,295.79 L192.54,295.84 L192.89,295.88 L193.24,295.93 L193.58,295.98 L193.93,296.03 L194.28,296.08 L194.63,296.14 L194.98,296.19 L195.33,296.25 L195.67,296.31 L196.02,296.37 L196.37,296.44 L196.72,296.50 L197.07,296.57 L197.41,296.65 L197.76,296.72 L198.11,296.80 L198.46,296.88 L198.81,296.97 L199.16,297.06 L199.50,297.16 L199.85,297.26 L200.20,297.37 L200.55,297.48 L200.90,297.60 L201.25,297.72 L201.59,297.86 L201.94,298.00 L202.29,298.15 L202.64,298.32 L202.99,298.50 L203.34,298.69 L203.68,298.89 L204.03,299.12 L204.38,299.36 L204.73,299.64 L205.08,299.94 L205.42,300.27 L205.77,300.65 L206.12,301.07 L206.47,301.56 L206.82,302.12 L207.17,302.79 L207.51,303.58 L207.86,304.56 L208.21,305.80 L208.56,307.43 L208.91,309.69 L209.26,311.07 L209.60,311.07 L209.95,311.07 L210.30,311.07 L210.3,292.8 Z" fill="#d2d3d5"/>
<line x1="70.5" y1="266.6" x2="70.5" y2="313.7" stroke="#707070" stroke-width="1"/>
<line x1="70" y1="313.2" x2="210.8" y2="313.2" stroke="#707070" stroke-width="1"/>
<line x1="66.1" y1="272.5" x2="70.5" y2="272.5" stroke="#707070" stroke-width="1"/>
<text x="52.72" y="275.25" font-size="8.3" fill="#2c2c2c" stroke="#2c2c2c" stroke-width="0.06" textLength="10.12" lengthAdjust="spacingAndGlyphs">10</text>
<line x1="66.1" y1="292.8" x2="70.5" y2="292.8" stroke="#707070" stroke-width="1"/>
<text x="56.76" y="295.55" font-size="8.3" fill="#2c2c2c" stroke="#2c2c2c" stroke-width="0.06" textLength="6.14" lengthAdjust="spacingAndGlyphs">0</text>
<line x1="66.1" y1="313.2" x2="70.5" y2="313.2" stroke="#707070" stroke-width="1"/>
<text x="48.79" y="315.95" font-size="8.3" fill="#2c2c2c" stroke="#2c2c2c" stroke-width="0.06" textLength="14.01" lengthAdjust="spacingAndGlyphs">−10</text>
<line x1="97.7" y1="313.2" x2="97.7" y2="316.6" stroke="#707070" stroke-width="1"/>
<text x="85.2" y="327.9" font-size="8.3" fill="#2c2c2c" stroke="#2c2c2c" stroke-width="0.06" textLength="25.08" lengthAdjust="spacingAndGlyphs">5,000</text>
<line x1="151.9" y1="313.2" x2="151.9" y2="316.6" stroke="#707070" stroke-width="1"/>
<text x="137.49" y="327.9" font-size="8.3" fill="#2c2c2c" stroke="#2c2c2c" stroke-width="0.06" textLength="28.82" lengthAdjust="spacingAndGlyphs">15,000</text>
<line x1="206.3" y1="313.2" x2="206.3" y2="316.6" stroke="#707070" stroke-width="1"/>
<text x="191.31" y="327.9" font-size="8.3" fill="#2c2c2c" stroke="#2c2c2c" stroke-width="0.06" textLength="30.02" lengthAdjust="spacingAndGlyphs">25,000</text>
<text x="83.75" y="344.5" font-size="10.2" fill="#2c2c2c" stroke="#2c2c2c" stroke-width="0.06" textLength="112.84" lengthAdjust="spacingAndGlyphs">Rank in ordered dataset</text>
<text x="36.2" y="216.32" font-size="10.4" fill="#2c2c2c" stroke="#2c2c2c" stroke-width="0.06" textLength="12.07" lengthAdjust="spacingAndGlyphs" transform="rotate(-90 36.2 216.32)">ES</text>
<text x="36.9" y="311.75" font-size="10.2" fill="#2c2c2c" stroke="#2c2c2c" stroke-width="0.06" textLength="44.12" lengthAdjust="spacingAndGlyphs" transform="rotate(-90 36.9 311.75)">Wald stat</text>
<text x="156.86" y="183.4" font-size="8.7" fill="#2c2c2c" stroke="#2c2c2c" stroke-width="0.06" textLength="42.1" lengthAdjust="spacingAndGlyphs"><tspan font-style="italic">P</tspan> <tspan font-size="5.2" dy="-0.4">=</tspan><tspan dy="0.4">0.0046</tspan></text>
<line x1="305.7" y1="176.3" x2="305.7" y2="246.5" stroke="#707070" stroke-width="1"/>
<line x1="301.3" y1="180.4" x2="305.7" y2="180.4" stroke="#707070" stroke-width="1"/>
<text x="286.26" y="183.15" font-size="8.3" fill="#2c2c2c" stroke="#2c2c2c" stroke-width="0.06" textLength="11.82" lengthAdjust="spacingAndGlyphs">0.1</text>
<line x1="301.3" y1="199.3" x2="305.7" y2="199.3" stroke="#707070" stroke-width="1"/>
<text x="291.96" y="202.05" font-size="8.3" fill="#2c2c2c" stroke="#2c2c2c" stroke-width="0.06" textLength="6.14" lengthAdjust="spacingAndGlyphs">0</text>
<line x1="301.3" y1="218.1" x2="305.7" y2="218.1" stroke="#707070" stroke-width="1"/>
<text x="281.99" y="220.85" font-size="8.3" fill="#2c2c2c" stroke="#2c2c2c" stroke-width="0.06" textLength="16.07" lengthAdjust="spacingAndGlyphs">−0.1</text>
<line x1="301.3" y1="237" x2="305.7" y2="237" stroke="#707070" stroke-width="1"/>
<text x="279.84" y="239.75" font-size="8.3" fill="#2c2c2c" stroke="#2c2c2c" stroke-width="0.06" textLength="18.32" lengthAdjust="spacingAndGlyphs">−0.2</text>
<path d="M305.60,199.40 L306.05,199.49 L306.50,199.66 L306.95,201.35 L307.40,200.94 L307.85,201.19 L308.30,202.32 L308.34,201.40 L308.38,201.45 L308.41,200.08 L308.45,200.30 L308.49,198.98 L308.53,198.62 L308.57,198.48 L308.60,197.61 L308.64,197.27 L308.68,196.42 L308.72,194.91 L308.76,195.24 L308.80,194.39 L308.83,193.38 L308.87,192.55 L308.91,192.76 L308.95,191.92 L308.99,191.74 L309.02,190.97 L309.06,190.58 L309.10,189.49 L309.43,190.14 L309.75,190.59 L310.07,190.66 L310.40,192.05 L310.63,190.69 L310.87,190.54 L311.10,190.19 L311.33,189.19 L311.57,187.83 L311.80,187.96 L312.12,188.52 L312.45,188.53 L312.78,188.91 L313.10,190.15 L313.32,189.00 L313.53,189.49 L313.75,188.53 L313.97,187.90 L314.18,187.17 L314.40,186.89 L314.68,187.85 L314.97,187.70 L315.25,188.26 L315.53,189.11 L315.82,189.37 L316.10,190.29 L316.83,189.97 L317.57,189.52 L318.30,189.51 L318.60,190.10 L318.90,190.24 L319.20,192.07 L319.63,191.89 L320.07,192.37 L320.50,192.82 L320.93,193.99 L321.37,194.61 L321.80,194.55 L322.23,194.81 L322.67,194.87 L323.10,196.33 L323.19,194.93 L323.28,194.69 L323.37,193.87 L323.46,193.21 L323.55,192.63 L323.64,191.81 L323.73,190.96 L323.82,190.97 L323.91,190.79 L324.00,190.05 L324.26,190.05 L324.52,191.20 L324.78,191.05 L325.04,192.00 L325.30,193.20 L325.52,192.76 L325.73,191.54 L325.95,191.31 L326.17,190.27 L326.38,189.59 L326.60,189.02 L327.14,189.12 L327.68,188.44 L328.22,187.61 L328.76,187.44 L329.30,186.93 L329.42,185.91 L329.54,185.77 L329.65,185.26 L329.77,184.37 L329.89,184.13 L330.01,182.35 L330.13,182.17 L330.25,181.77 L330.36,180.79 L330.48,179.88 L330.60,179.88 L330.93,180.19 L331.25,180.49 L331.57,180.71 L331.90,182.41 L332.33,181.18 L332.77,180.19 L333.20,179.65 L333.43,180.39 L333.65,181.87 L333.88,181.77 L334.10,182.46 L334.65,182.65 L335.20,183.52 L335.75,183.68 L336.30,184.24 L336.52,184.18 L336.73,183.93 L336.95,183.27 L337.17,181.64 L337.38,181.35 L337.60,181.42 L337.93,181.11 L338.25,181.83 L338.57,182.87 L338.90,183.43 L339.33,184.35 L339.77,184.83 L340.20,184.95 L340.63,185.07 L341.07,185.45 L341.50,185.94 L342.04,185.40 L342.58,185.86 L343.12,185.03 L343.66,185.62 L344.20,185.16 L344.62,184.91 L345.05,185.92 L345.47,186.67 L345.90,186.52 L346.55,187.00 L347.20,186.47 L347.85,187.35 L348.50,186.49 L348.96,187.58 L349.42,188.54 L349.88,188.85 L350.34,188.44 L350.80,189.11 L351.26,189.03 L351.72,189.62 L352.18,190.73 L352.64,191.18 L353.10,190.53 L353.69,191.14 L354.27,191.82 L354.86,191.56 L355.44,192.58 L356.03,193.09 L356.61,192.97 L357.20,192.94 L357.63,193.97 L358.06,194.05 L358.49,194.01 L358.91,194.50 L359.34,194.78 L359.77,196.08 L360.20,196.22 L360.63,196.85 L361.06,197.47 L361.49,198.14 L361.91,197.59 L362.34,198.16 L362.77,199.23 L363.20,199.61 L363.71,199.54 L364.23,200.25 L364.74,200.12 L365.26,200.42 L365.77,200.68 L366.29,201.52 L366.80,201.82 L367.19,202.67 L367.59,203.82 L367.98,203.36 L368.37,204.25 L368.76,205.21 L369.16,205.44 L369.55,205.82 L369.94,206.62 L370.34,206.20 L370.73,207.77 L371.12,208.10 L371.51,208.73 L371.91,209.28 L372.30,208.85 L372.68,209.18 L373.06,209.80 L373.44,210.75 L373.82,211.88 L374.21,212.45 L374.59,212.32 L374.97,213.00 L375.35,213.69 L375.73,213.69 L376.11,214.95 L376.49,215.53 L376.88,215.77 L377.26,216.46 L377.64,216.87 L378.02,217.16 L378.40,217.21 L378.77,217.59 L379.15,218.03 L379.52,218.29 L379.90,219.88 L380.27,219.74 L380.65,219.79 L381.02,220.61 L381.40,220.88 L381.77,221.80 L382.15,222.22 L382.52,222.51 L382.90,223.38 L383.27,223.86 L383.65,224.28 L384.02,225.37 L384.40,225.31 L384.88,225.94 L385.35,226.82 L385.83,227.41 L386.31,227.08 L386.78,226.95 L387.26,228.47 L387.74,228.47 L388.21,228.44 L388.69,228.67 L389.16,229.20 L389.64,229.72 L390.12,229.93 L390.59,230.19 L391.07,231.81 L391.55,232.17 L392.02,231.66 L392.50,232.41 L393.00,233.31 L393.50,233.42 L394.00,233.24 L394.50,233.92 L395.00,234.44 L395.50,235.58 L396.00,235.68 L396.57,235.83 L397.14,236.38 L397.71,236.01 L398.29,237.09 L398.86,237.71 L399.43,237.93 L400.00,237.86 L400.65,237.95 L401.30,237.82 L401.95,238.10 L402.60,238.45 L402.90,238.26 L403.20,238.14 L403.50,236.88 L403.80,236.52 L404.10,236.16 L404.85,236.44 L405.60,235.91 L405.93,236.44 L406.27,235.65 L406.60,234.72 L406.93,234.06 L407.27,234.11 L407.60,233.99 L407.99,233.79 L408.38,234.27 L408.77,234.98 L409.16,235.03 L409.54,235.77 L409.93,236.98 L410.32,237.13 L410.71,237.93 L411.10,237.76 L411.75,238.57 L412.40,238.68 L413.05,238.08 L413.70,238.50 L414.09,239.24 L414.48,239.63 L414.87,240.15 L415.26,240.18 L415.64,241.02 L416.03,241.31 L416.42,242.36 L416.81,242.39 L417.20,243.61 L417.40,242.62 L417.60,241.53 L417.80,241.12 L418.00,240.20 L418.20,240.36 L418.40,239.00 L418.60,239.04 L418.80,238.17 L419.00,238.16 L419.20,236.83 L419.40,236.86 L419.60,236.42 L419.80,235.25 L420.00,234.45 L420.20,234.16 L420.41,233.96 L420.61,232.91 L420.82,231.92 L421.03,231.82 L421.23,231.77 L421.44,230.41 L421.65,230.71 L421.85,229.69 L422.06,228.57 L422.27,227.82 L422.47,227.54 L422.68,227.13 L422.89,226.17 L423.09,225.39 L423.30,225.31 L423.80,225.40 L424.30,225.94 L424.80,226.32 L425.22,226.13 L425.63,225.50 L426.05,224.52 L426.47,223.87 L426.88,224.21 L427.30,222.78 L427.73,223.25 L428.16,223.68 L428.59,225.17 L429.01,225.46 L429.44,226.44 L429.87,226.63 L430.30,226.72 L430.41,226.16 L430.52,225.94 L430.63,224.73 L430.74,224.76 L430.86,223.72 L430.97,222.56 L431.08,222.25 L431.19,221.96 L431.30,220.85 L431.55,222.38 L431.80,223.17 L432.05,223.28 L432.30,224.34 L432.42,223.51 L432.55,222.66 L432.67,221.52 L432.79,221.85 L432.92,221.34 L433.04,220.13 L433.16,219.33 L433.29,218.28 L433.41,218.31 L433.54,218.10 L433.66,216.93 L433.78,216.10 L433.91,215.87 L434.03,215.55 L434.15,214.17 L434.28,213.58 L434.40,213.43 L434.51,212.12 L434.63,212.43 L434.74,211.31 L434.85,211.30 L434.97,210.30 L435.08,209.27 L435.20,208.41 L435.31,207.89 L435.42,207.50 L435.54,207.57 L435.65,207.12 L435.76,206.33 L435.88,205.28 L435.99,205.08 L436.10,204.63 L436.22,203.58 L436.33,202.54 L436.45,202.38 L436.56,201.52 L436.67,200.84 L436.79,200.49 L436.90,199.52 L437.23,201.04 L437.57,200.90 L437.90,202.12 L438.23,202.53 L438.57,202.08 L438.90,203.60 L439.23,204.14 L439.57,204.29 L439.90,205.22 L440.04,204.15 L440.17,202.89 L440.31,202.35 L440.45,201.97 L440.58,202.12 L440.72,201.59 L440.85,200.08 L440.99,199.64 L441.13,198.76 L441.26,198.27 L441.40,197.84 L441.57,197.37 L441.73,196.46 L441.90,196.48 L442.07,195.45 L442.23,195.64 L442.40,194.64 L442.73,195.18 L443.07,196.27 L443.40,196.45 L443.90,195.76 L444.40,195.06 L444.72,195.85 L445.04,196.40 L445.36,197.65 L445.68,197.85 L446.00,198.60" fill="none" stroke="#3050a2" stroke-width="1.3" stroke-linejoin="round"/>
<rect x="305.7" y="249.2" width="2.7" height="9.6" fill="#707070"/>
<rect x="305.7" y="249.2" width="0.6" height="9.6" fill="#5a5a5a"/>
<rect x="306.6" y="249.2" width="0.8" height="9.6" fill="#303030"/>
<rect x="311.1" y="249.2" width="0.8" height="9.6" fill="#707070"/>
<rect x="311.1" y="249.2" width="0.8" height="9.6" fill="#181818"/>
<rect x="313.8" y="249.2" width="1.1" height="9.6" fill="#8c8c8c"/>
<rect x="313.8" y="249.2" width="0.8" height="9.6" fill="#666666"/>
<rect x="318.7" y="249.2" width="0.8" height="9.6" fill="#707070"/>
<rect x="318.7" y="249.2" width="0.4" height="9.6" fill="#303030"/>
<rect x="322.4" y="249.2" width="1.1" height="9.6" fill="#8c8c8c"/>
<rect x="322.4" y="249.2" width="0.4" height="9.6" fill="#505050"/>
<rect x="325.1" y="249.2" width="6" height="9.6" fill="#707070"/>
<rect x="325.1" y="249.2" width="0.4" height="9.6" fill="#5a5a5a"/>
<rect x="326.7" y="249.2" width="0.8" height="9.6" fill="#303030"/>
<rect x="327.8" y="249.2" width="0.4" height="9.6" fill="#444444"/>
<rect x="328.5" y="249.2" width="0.4" height="9.6" fill="#707070"/>
<rect x="329.2" y="249.2" width="0.8" height="9.6" fill="#707070"/>
<rect x="333.2" y="249.2" width="0.8" height="9.6" fill="#8c8c8c"/>
<rect x="333.2" y="249.2" width="0.6" height="9.6" fill="#a0a0a0"/>
<rect x="336" y="249.2" width="1.6" height="9.6" fill="#707070"/>
<rect x="336" y="249.2" width="0.8" height="9.6" fill="#909090"/>
<rect x="341.4" y="249.2" width="0.8" height="9.6" fill="#707070"/>
<rect x="341.4" y="249.2" width="0.4" height="9.6" fill="#303030"/>
<rect x="343.5" y="249.2" width="1.1" height="9.6" fill="#8c8c8c"/>
<rect x="343.5" y="249.2" width="0.4" height="9.6" fill="#808080"/>
<rect x="347.3" y="249.2" width="1.1" height="9.6" fill="#707070"/>
<rect x="347.3" y="249.2" width="0.4" height="9.6" fill="#101010"/>
<rect x="351.6" y="249.2" width="2.2" height="9.6" fill="#707070"/>
<rect x="351.6" y="249.2" width="0.4" height="9.6" fill="#909090"/>
<rect x="352.9" y="249.2" width="0.4" height="9.6" fill="#181818"/>
<rect x="355.9" y="249.2" width="3.3" height="9.6" fill="#8c8c8c"/>
<rect x="355.9" y="249.2" width="0.8" height="9.6" fill="#808080"/>
<rect x="357" y="249.2" width="0.8" height="9.6" fill="#505050"/>
<rect x="358.1" y="249.2" width="0.4" height="9.6" fill="#808080"/>
<rect x="361.9" y="249.2" width="2.7" height="9.6" fill="#707070"/>
<rect x="361.9" y="249.2" width="0.6" height="9.6" fill="#101010"/>
<rect x="363.4" y="249.2" width="0.6" height="9.6" fill="#5a5a5a"/>
<rect x="364.3" y="249.2" width="0.3" height="9.6" fill="#101010"/>
<rect x="366.7" y="249.2" width="1.1" height="9.6" fill="#8c8c8c"/>
<rect x="366.7" y="249.2" width="0.8" height="9.6" fill="#808080"/>
<rect x="369.4" y="249.2" width="1.1" height="9.6" fill="#707070"/>
<rect x="369.4" y="249.2" width="0.4" height="9.6" fill="#181818"/>
<rect x="372.1" y="249.2" width="1.1" height="9.6" fill="#8c8c8c"/>
<rect x="372.1" y="249.2" width="0.4" height="9.6" fill="#808080"/>
<rect x="372.8" y="249.2" width="0.4" height="9.6" fill="#cccccc"/>
<rect x="374.8" y="249.2" width="1.1" height="9.6" fill="#707070"/>
<rect x="374.8" y="249.2" width="0.6" height="9.6" fill="#909090"/>
<rect x="379.3" y="249.2" width="1.1" height="9.6" fill="#8c8c8c"/>
<rect x="379.3" y="249.2" width="0.6" height="9.6" fill="#cccccc"/>
<rect x="385.3" y="249.2" width="1" height="9.6" fill="#707070"/>
<rect x="385.3" y="249.2" width="0.6" height="9.6" fill="#303030"/>
<rect x="388" y="249.2" width="1" height="9.6" fill="#707070"/>
<rect x="388" y="249.2" width="0.6" height="9.6" fill="#909090"/>
<rect x="391.2" y="249.2" width="4.9" height="9.6" fill="#8c8c8c"/>
<rect x="391.2" y="249.2" width="0.6" height="9.6" fill="#cccccc"/>
<rect x="392.7" y="249.2" width="0.6" height="9.6" fill="#808080"/>
<rect x="394.5" y="249.2" width="0.8" height="9.6" fill="#cccccc"/>
<rect x="397.7" y="249.2" width="0.8" height="9.6" fill="#8c8c8c"/>
<rect x="397.7" y="249.2" width="0.8" height="9.6" fill="#505050"/>
<rect x="399.3" y="249.2" width="1.6" height="9.6" fill="#707070"/>
<rect x="399.3" y="249.2" width="0.4" height="9.6" fill="#181818"/>
<rect x="400.3" y="249.2" width="0.4" height="9.6" fill="#707070"/>
<rect x="402.5" y="249.2" width="4.9" height="9.6" fill="#707070"/>
<rect x="402.5" y="249.2" width="0.8" height="9.6" fill="#101010"/>
<rect x="404.2" y="249.2" width="0.6" height="9.6" fill="#909090"/>
<rect x="406" y="249.2" width="0.6" height="9.6" fill="#5a5a5a"/>
<rect x="411.2" y="249.2" width="1.6" height="9.6" fill="#8c8c8c"/>
<rect x="411.2" y="249.2" width="0.4" height="9.6" fill="#808080"/>
<rect x="417.1" y="249.2" width="3.3" height="9.6" fill="#707070"/>
<rect x="417.1" y="249.2" width="0.4" height="9.6" fill="#444444"/>
<rect x="418.4" y="249.2" width="0.8" height="9.6" fill="#303030"/>
<rect x="419.8" y="249.2" width="0.6" height="9.6" fill="#5a5a5a"/>
<rect x="421.5" y="249.2" width="4.3" height="9.6" fill="#707070"/>
<rect x="421.5" y="249.2" width="0.8" height="9.6" fill="#303030"/>
<rect x="423.5" y="249.2" width="0.8" height="9.6" fill="#909090"/>
<rect x="427.9" y="249.2" width="0.8" height="9.6" fill="#8c8c8c"/>
<rect x="427.9" y="249.2" width="0.6" height="9.6" fill="#a0a0a0"/>
<rect x="430.1" y="249.2" width="1.6" height="9.6" fill="#707070"/>
<rect x="430.1" y="249.2" width="0.6" height="9.6" fill="#303030"/>
<rect x="432.3" y="249.2" width="4.8" height="9.6" fill="#707070"/>
<rect x="432.3" y="249.2" width="0.4" height="9.6" fill="#707070"/>
<rect x="433.9" y="249.2" width="0.6" height="9.6" fill="#707070"/>
<rect x="434.8" y="249.2" width="0.6" height="9.6" fill="#101010"/>
<rect x="436.3" y="249.2" width="0.8" height="9.6" fill="#909090"/>
<rect x="439.3" y="249.2" width="1.1" height="9.6" fill="#8c8c8c"/>
<rect x="439.3" y="249.2" width="0.6" height="9.6" fill="#cccccc"/>
<rect x="442" y="249.2" width="1.1" height="9.6" fill="#707070"/>
<rect x="442" y="249.2" width="0.6" height="9.6" fill="#101010"/>
<rect x="305.7" y="259" width="15.15" height="7" fill="#da472f"/>
<rect x="320.8" y="259" width="12.25" height="7" fill="#eb7a5d"/>
<rect x="333" y="259" width="15.25" height="7" fill="#f0aa90"/>
<rect x="348.2" y="259" width="14.85" height="7" fill="#fbe2d8"/>
<rect x="363" y="259" width="17.95" height="7" fill="#e9edf6"/>
<rect x="380.9" y="259" width="17.35" height="7" fill="#b9d4e8"/>
<rect x="398.2" y="259" width="22.75" height="7" fill="#6ea9d6"/>
<rect x="420.9" y="259" width="22.75" height="7" fill="#4584c4"/>
<rect x="443.6" y="259" width="2.45" height="7" fill="#2c5aa6"/>
<rect x="362.11" y="259" width="0.68" height="7" fill="#000" fill-opacity="0.07"/>
<rect x="312.76" y="259" width="0.51" height="7" fill="#000" fill-opacity="0.07"/>
<rect x="334.98" y="259" width="0.53" height="7" fill="#000" fill-opacity="0.07"/>
<rect x="378.5" y="259" width="0.43" height="7" fill="#000" fill-opacity="0.07"/>
<rect x="318.1" y="259" width="0.45" height="7" fill="#000" fill-opacity="0.07"/>
<rect x="407.88" y="259" width="0.98" height="7" fill="#000" fill-opacity="0.07"/>
<rect x="410.18" y="259" width="0.71" height="7" fill="#000" fill-opacity="0.07"/>
<rect x="323.88" y="259" width="0.87" height="7" fill="#000" fill-opacity="0.07"/>
<rect x="323.74" y="259" width="0.45" height="7" fill="#000" fill-opacity="0.07"/>
<rect x="376.95" y="259" width="0.92" height="7" fill="#000" fill-opacity="0.07"/>
<rect x="348.98" y="259" width="0.92" height="7" fill="#000" fill-opacity="0.07"/>
<rect x="351.97" y="259" width="0.98" height="7" fill="#000" fill-opacity="0.07"/>
<rect x="408.6" y="259" width="0.92" height="7" fill="#000" fill-opacity="0.07"/>
<rect x="442.84" y="259" width="0.89" height="7" fill="#000" fill-opacity="0.07"/>
<rect x="333.03" y="259" width="0.71" height="7" fill="#000" fill-opacity="0.07"/>
<rect x="381.58" y="259" width="0.83" height="7" fill="#000" fill-opacity="0.07"/>
<rect x="337.69" y="259" width="0.75" height="7" fill="#000" fill-opacity="0.07"/>
<rect x="345.28" y="259" width="0.51" height="7" fill="#000" fill-opacity="0.07"/>
<rect x="368.34" y="259" width="0.88" height="7" fill="#000" fill-opacity="0.07"/>
<rect x="382.85" y="259" width="0.61" height="7" fill="#000" fill-opacity="0.07"/>
<rect x="337.16" y="259" width="0.62" height="7" fill="#000" fill-opacity="0.07"/>
<rect x="361.28" y="259" width="0.56" height="7" fill="#000" fill-opacity="0.07"/>
<rect x="349.02" y="259" width="0.54" height="7" fill="#000" fill-opacity="0.07"/>
<rect x="346.67" y="259" width="0.8" height="7" fill="#000" fill-opacity="0.07"/>
<rect x="392.79" y="259" width="0.78" height="7" fill="#000" fill-opacity="0.07"/>
<rect x="434.4" y="259" width="0.8" height="7" fill="#000" fill-opacity="0.07"/>
<rect x="323.82" y="259" width="0.64" height="7" fill="#000" fill-opacity="0.07"/>
<rect x="378.72" y="259" width="0.85" height="7" fill="#000" fill-opacity="0.07"/>
<rect x="379.56" y="259" width="0.46" height="7" fill="#000" fill-opacity="0.07"/>
<rect x="372" y="259" width="0.79" height="7" fill="#000" fill-opacity="0.07"/>
<rect x="415.09" y="259" width="0.67" height="7" fill="#000" fill-opacity="0.07"/>
<rect x="335.49" y="259" width="0.42" height="7" fill="#000" fill-opacity="0.07"/>
<rect x="375.78" y="259" width="0.85" height="7" fill="#000" fill-opacity="0.07"/>
<rect x="321.08" y="259" width="0.71" height="7" fill="#000" fill-opacity="0.07"/>
<rect x="388.84" y="259" width="0.74" height="7" fill="#000" fill-opacity="0.07"/>
<rect x="337.96" y="259" width="0.46" height="7" fill="#000" fill-opacity="0.07"/>
<rect x="308.7" y="259" width="0.58" height="7" fill="#000" fill-opacity="0.07"/>
<rect x="430.62" y="259" width="0.65" height="7" fill="#000" fill-opacity="0.07"/>
<rect x="443.18" y="259" width="0.89" height="7" fill="#000" fill-opacity="0.07"/>
<rect x="387.03" y="259" width="0.66" height="7" fill="#000" fill-opacity="0.07"/>
<rect x="384.03" y="259" width="0.9" height="7" fill="#000" fill-opacity="0.07"/>
<rect x="352.27" y="259" width="0.49" height="7" fill="#000" fill-opacity="0.07"/>
<rect x="430.89" y="259" width="0.78" height="7" fill="#000" fill-opacity="0.07"/>
<rect x="358.33" y="259" width="0.64" height="7" fill="#000" fill-opacity="0.07"/>
<rect x="319.79" y="259" width="0.74" height="7" fill="#000" fill-opacity="0.07"/>
<line x1="305.7" y1="249.2" x2="305.7" y2="266" stroke="#444" stroke-width="0.9"/>
<path d="M306.2,294.0 L306.20,267.68 L306.55,267.68 L306.90,268.17 L307.24,274.09 L307.59,277.46 L307.94,279.68 L308.29,281.27 L308.64,282.48 L308.99,283.44 L309.33,284.22 L309.68,284.87 L310.03,285.43 L310.38,285.91 L310.73,286.32 L311.08,286.69 L311.42,287.02 L311.77,287.31 L312.12,287.58 L312.47,287.82 L312.82,288.04 L313.16,288.24 L313.51,288.43 L313.86,288.60 L314.21,288.76 L314.56,288.91 L314.91,289.05 L315.25,289.19 L315.60,289.31 L315.95,289.43 L316.30,289.54 L316.65,289.64 L317.00,289.74 L317.34,289.84 L317.69,289.93 L318.04,290.01 L318.39,290.09 L318.74,290.17 L319.09,290.24 L319.43,290.32 L319.78,290.39 L320.13,290.45 L320.48,290.51 L320.83,290.58 L321.17,290.63 L321.52,290.69 L321.87,290.75 L322.22,290.80 L322.57,290.85 L322.92,290.90 L323.26,290.95 L323.61,290.99 L323.96,291.04 L324.31,291.08 L324.66,291.13 L325.01,291.17 L325.35,291.21 L325.70,291.25 L326.05,291.29 L326.40,291.32 L326.75,291.36 L327.09,291.39 L327.44,291.43 L327.79,291.46 L328.14,291.50 L328.49,291.53 L328.84,291.56 L329.18,291.59 L329.53,291.62 L329.88,291.65 L330.23,291.68 L330.58,291.71 L330.93,291.73 L331.27,291.76 L331.62,291.79 L331.97,291.81 L332.32,291.84 L332.67,291.86 L333.02,291.89 L333.36,291.91 L333.71,291.94 L334.06,291.96 L334.41,291.98 L334.76,292.01 L335.10,292.03 L335.45,292.05 L335.80,292.07 L336.15,292.09 L336.50,292.12 L336.85,292.14 L337.19,292.16 L337.54,292.18 L337.89,292.20 L338.24,292.22 L338.59,292.24 L338.94,292.26 L339.28,292.27 L339.63,292.29 L339.98,292.31 L340.33,292.33 L340.68,292.35 L341.02,292.37 L341.37,292.38 L341.72,292.40 L342.07,292.42 L342.42,292.43 L342.77,292.45 L343.11,292.47 L343.46,292.48 L343.81,292.50 L344.16,292.52 L344.51,292.53 L344.86,292.55 L345.20,292.57 L345.55,292.58 L345.90,292.60 L346.25,292.61 L346.60,292.63 L346.95,292.64 L347.29,292.66 L347.64,292.67 L347.99,292.69 L348.34,292.70 L348.69,292.72 L349.03,292.73 L349.38,292.75 L349.73,292.76 L350.08,292.78 L350.43,292.79 L350.78,292.80 L351.12,292.82 L351.47,292.83 L351.82,292.85 L352.17,292.86 L352.52,292.88 L352.87,292.89 L353.21,292.90 L353.56,292.92 L353.91,292.93 L354.26,292.95 L354.61,292.96 L354.95,292.97 L355.30,292.99 L355.65,293.00 L356.00,293.01 L356.35,293.03 L356.70,293.04 L357.04,293.06 L357.39,293.07 L357.74,293.08 L358.09,293.10 L358.44,293.11 L358.79,293.12 L359.13,293.14 L359.48,293.15 L359.83,293.17 L360.18,293.18 L360.53,293.19 L360.88,293.21 L361.22,293.22 L361.57,293.24 L361.92,293.25 L362.27,293.26 L362.62,293.28 L362.96,293.29 L363.31,293.31 L363.66,293.32 L364.01,293.34 L364.36,293.35 L364.71,293.37 L365.05,293.38 L365.40,293.40 L365.75,293.41 L366.10,293.43 L366.45,293.44 L366.80,293.46 L367.14,293.48 L367.49,293.49 L367.84,293.51 L368.19,293.53 L368.54,293.54 L368.88,293.56 L369.23,293.58 L369.58,293.60 L369.93,293.62 L370.28,293.63 L370.63,293.65 L370.97,293.68 L371.32,293.70 L371.67,293.72 L372.02,293.74 L372.37,293.77 L372.72,293.79 L373.06,293.82 L373.41,293.85 L373.76,293.88 L374.11,293.93 L374.46,294.00 L374.81,294.07 L375.15,294.11 L375.50,294.15 L375.85,294.18 L376.20,294.20 L376.55,294.23 L376.89,294.25 L377.24,294.27 L377.59,294.30 L377.94,294.32 L378.29,294.34 L378.64,294.36 L378.98,294.37 L379.33,294.39 L379.68,294.41 L380.03,294.43 L380.38,294.45 L380.73,294.46 L381.07,294.48 L381.42,294.49 L381.77,294.51 L382.12,294.53 L382.47,294.54 L382.81,294.56 L383.16,294.57 L383.51,294.59 L383.86,294.60 L384.21,294.62 L384.56,294.63 L384.90,294.65 L385.25,294.66 L385.60,294.67 L385.95,294.69 L386.30,294.70 L386.65,294.72 L386.99,294.73 L387.34,294.74 L387.69,294.76 L388.04,294.77 L388.39,294.78 L388.74,294.80 L389.08,294.81 L389.43,294.82 L389.78,294.84 L390.13,294.85 L390.48,294.86 L390.82,294.88 L391.17,294.89 L391.52,294.90 L391.87,294.92 L392.22,294.93 L392.57,294.94 L392.91,294.96 L393.26,294.97 L393.61,294.98 L393.96,295.00 L394.31,295.01 L394.66,295.02 L395.00,295.04 L395.35,295.05 L395.70,295.06 L396.05,295.08 L396.40,295.09 L396.75,295.10 L397.09,295.12 L397.44,295.13 L397.79,295.14 L398.14,295.16 L398.49,295.17 L398.83,295.18 L399.18,295.20 L399.53,295.21 L399.88,295.23 L400.23,295.24 L400.58,295.25 L400.92,295.27 L401.27,295.28 L401.62,295.30 L401.97,295.31 L402.32,295.32 L402.67,295.34 L403.01,295.35 L403.36,295.37 L403.71,295.38 L404.06,295.40 L404.41,295.41 L404.75,295.43 L405.10,295.44 L405.45,295.46 L405.80,295.47 L406.15,295.49 L406.50,295.51 L406.84,295.52 L407.19,295.54 L407.54,295.55 L407.89,295.57 L408.24,295.59 L408.59,295.60 L408.93,295.62 L409.28,295.64 L409.63,295.65 L409.98,295.67 L410.33,295.69 L410.68,295.71 L411.02,295.72 L411.37,295.74 L411.72,295.76 L412.07,295.78 L412.42,295.80 L412.76,295.82 L413.11,295.84 L413.46,295.86 L413.81,295.88 L414.16,295.90 L414.51,295.92 L414.85,295.94 L415.20,295.96 L415.55,295.98 L415.90,296.00 L416.25,296.02 L416.60,296.04 L416.94,296.07 L417.29,296.09 L417.64,296.11 L417.99,296.14 L418.34,296.16 L418.68,296.19 L419.03,296.21 L419.38,296.24 L419.73,296.26 L420.08,296.29 L420.43,296.32 L420.77,296.34 L421.12,296.37 L421.47,296.40 L421.82,296.43 L422.17,296.46 L422.52,296.49 L422.86,296.52 L423.21,296.55 L423.56,296.59 L423.91,296.62 L424.26,296.66 L424.61,296.69 L424.95,296.73 L425.30,296.76 L425.65,296.80 L426.00,296.84 L426.35,296.88 L426.69,296.92 L427.04,296.96 L427.39,297.01 L427.74,297.05 L428.09,297.10 L428.44,297.15 L428.78,297.19 L429.13,297.25 L429.48,297.30 L429.83,297.35 L430.18,297.41 L430.53,297.47 L430.87,297.53 L431.22,297.59 L431.57,297.65 L431.92,297.72 L432.27,297.79 L432.61,297.86 L432.96,297.94 L433.31,298.02 L433.66,298.10 L434.01,298.19 L434.36,298.28 L434.70,298.38 L435.05,298.48 L435.40,298.59 L435.75,298.70 L436.10,298.82 L436.45,298.95 L436.79,299.08 L437.14,299.23 L437.49,299.38 L437.84,299.55 L438.19,299.72 L438.53,299.92 L438.88,300.12 L439.23,300.35 L439.58,300.60 L439.93,300.87 L440.28,301.17 L440.62,301.51 L440.97,301.88 L441.32,302.31 L441.67,302.80 L442.02,303.37 L442.37,304.04 L442.71,304.84 L443.06,305.82 L443.41,307.06 L443.76,308.70 L444.11,310.98 L444.46,312.36 L444.80,312.36 L445.15,312.36 L445.50,312.36 L445.5,294.0 Z" fill="#d2d3d5"/>
<line x1="305.7" y1="267.8" x2="305.7" y2="314.7" stroke="#707070" stroke-width="1"/>
<line x1="305.2" y1="314.2" x2="446" y2="314.2" stroke="#707070" stroke-width="1"/>
<line x1="301.3" y1="273.6" x2="305.7" y2="273.6" stroke="#707070" stroke-width="1"/>
<text x="287.92" y="276.35" font-size="8.3" fill="#2c2c2c" stroke="#2c2c2c" stroke-width="0.06" textLength="10.12" lengthAdjust="spacingAndGlyphs">10</text>
<line x1="301.3" y1="294" x2="305.7" y2="294" stroke="#707070" stroke-width="1"/>
<text x="291.96" y="296.75" font-size="8.3" fill="#2c2c2c" stroke="#2c2c2c" stroke-width="0.06" textLength="6.14" lengthAdjust="spacingAndGlyphs">0</text>
<line x1="301.3" y1="314.2" x2="305.7" y2="314.2" stroke="#707070" stroke-width="1"/>
<text x="283.99" y="316.95" font-size="8.3" fill="#2c2c2c" stroke="#2c2c2c" stroke-width="0.06" textLength="14.01" lengthAdjust="spacingAndGlyphs">−10</text>
<line x1="332.8" y1="314.2" x2="332.8" y2="317.6" stroke="#707070" stroke-width="1"/>
<text x="322.2" y="327.9" font-size="8.3" fill="#2c2c2c" stroke="#2c2c2c" stroke-width="0.06" textLength="25.28" lengthAdjust="spacingAndGlyphs">5,000</text>
<line x1="387.2" y1="314.2" x2="387.2" y2="317.6" stroke="#707070" stroke-width="1"/>
<text x="373.18" y="327.9" font-size="8.3" fill="#2c2c2c" stroke="#2c2c2c" stroke-width="0.06" textLength="29.24" lengthAdjust="spacingAndGlyphs">15,000</text>
<line x1="441.4" y1="314.2" x2="441.4" y2="317.6" stroke="#707070" stroke-width="1"/>
<text x="428.31" y="327.9" font-size="8.3" fill="#2c2c2c" stroke="#2c2c2c" stroke-width="0.06" textLength="29.92" lengthAdjust="spacingAndGlyphs">25,000</text>
<text x="319.15" y="344.5" font-size="10.2" fill="#2c2c2c" stroke="#2c2c2c" stroke-width="0.06" textLength="113.04" lengthAdjust="spacingAndGlyphs">Rank in ordered dataset</text>
<text x="274.9" y="217.43" font-size="10.4" fill="#2c2c2c" stroke="#2c2c2c" stroke-width="0.06" textLength="12.18" lengthAdjust="spacingAndGlyphs" transform="rotate(-90 274.9 217.43)">ES</text>
<text x="276.1" y="312.95" font-size="10.2" fill="#2c2c2c" stroke="#2c2c2c" stroke-width="0.06" textLength="44.02" lengthAdjust="spacingAndGlyphs" transform="rotate(-90 276.1 312.95)">Wald stat</text>
<text x="397.28" y="184.7" font-size="8.7" fill="#2c2c2c" stroke="#2c2c2c" stroke-width="0.06" textLength="36.21" lengthAdjust="spacingAndGlyphs"><tspan font-style="italic">P</tspan> <tspan font-size="5.2" dy="-0.4">=</tspan><tspan dy="0.4">0.305</tspan></text>
<line x1="535" y1="175.4" x2="535" y2="245.9" stroke="#707070" stroke-width="1"/>
<line x1="530.6" y1="183.1" x2="535" y2="183.1" stroke="#707070" stroke-width="1"/>
<text x="515.56" y="185.85" font-size="8.3" fill="#2c2c2c" stroke="#2c2c2c" stroke-width="0.06" textLength="11.82" lengthAdjust="spacingAndGlyphs">0.1</text>
<line x1="530.6" y1="198.2" x2="535" y2="198.2" stroke="#707070" stroke-width="1"/>
<text x="521.26" y="200.95" font-size="8.3" fill="#2c2c2c" stroke="#2c2c2c" stroke-width="0.06" textLength="6.14" lengthAdjust="spacingAndGlyphs">0</text>
<line x1="530.6" y1="213.1" x2="535" y2="213.1" stroke="#707070" stroke-width="1"/>
<text x="511.29" y="215.85" font-size="8.3" fill="#2c2c2c" stroke="#2c2c2c" stroke-width="0.06" textLength="16.07" lengthAdjust="spacingAndGlyphs">−0.1</text>
<line x1="530.6" y1="228.3" x2="535" y2="228.3" stroke="#707070" stroke-width="1"/>
<text x="509.14" y="231.05" font-size="8.3" fill="#2c2c2c" stroke="#2c2c2c" stroke-width="0.06" textLength="18.32" lengthAdjust="spacingAndGlyphs">−0.2</text>
<line x1="530.6" y1="243.7" x2="535" y2="243.7" stroke="#707070" stroke-width="1"/>
<text x="509.14" y="246.45" font-size="8.3" fill="#2c2c2c" stroke="#2c2c2c" stroke-width="0.06" textLength="18.22" lengthAdjust="spacingAndGlyphs">−0.3</text>
<path d="M535.10,199.00 L535.15,198.41 L535.20,197.84 L535.25,196.93 L535.30,196.41 L535.35,195.89 L535.40,195.26 L535.45,194.24 L535.50,193.76 L535.93,194.20 L536.37,194.58 L536.80,195.23 L537.06,194.45 L537.32,193.78 L537.58,193.42 L537.84,192.70 L538.10,191.92 L538.40,192.46 L538.70,193.12 L539.00,193.47 L539.26,193.10 L539.52,192.58 L539.78,191.82 L540.04,191.39 L540.30,190.84 L540.62,191.21 L540.95,191.80 L541.27,192.07 L541.60,192.55 L541.86,192.40 L542.12,191.52 L542.38,190.85 L542.64,190.58 L542.90,189.95 L543.20,190.20 L543.50,190.82 L543.80,191.35 L543.90,190.73 L544.00,189.97 L544.10,189.57 L544.20,188.86 L544.30,188.27 L544.40,187.53 L544.50,186.85 L544.60,186.17 L544.70,185.95 L545.14,186.43 L545.58,186.81 L546.02,187.06 L546.46,187.52 L546.90,187.98 L547.34,188.56 L547.78,188.92 L548.22,189.49 L548.66,189.95 L549.10,190.42 L549.52,190.10 L549.95,189.49 L550.38,188.93 L550.80,188.33 L551.40,188.14 L552.00,188.01 L552.60,187.53 L552.72,186.75 L552.84,186.30 L552.96,185.65 L553.09,185.22 L553.21,184.28 L553.33,183.99 L553.45,182.98 L553.57,182.56 L553.69,181.91 L553.81,181.22 L553.94,180.87 L554.06,180.19 L554.18,179.28 L554.30,178.78 L554.82,179.29 L555.33,179.44 L555.85,179.86 L556.37,180.55 L556.88,181.08 L557.40,181.40 L557.92,181.80 L558.44,182.28 L558.96,182.60 L559.48,183.33 L560.00,183.86 L560.52,183.99 L561.04,184.08 L561.56,184.59 L562.08,185.18 L562.60,185.33 L563.27,185.52 L563.95,185.86 L564.62,186.45 L565.30,186.77 L565.73,186.00 L566.17,185.55 L566.60,185.04 L567.04,185.64 L567.48,186.08 L567.92,186.37 L568.36,187.01 L568.80,187.59 L569.24,188.06 L569.68,188.49 L570.12,188.89 L570.56,189.33 L571.00,189.98 L571.27,189.16 L571.53,188.46 L571.80,187.48 L572.40,187.21 L573.00,187.12 L573.60,187.12 L574.03,187.58 L574.47,187.84 L574.90,188.26 L575.33,189.08 L575.77,189.14 L576.20,189.95 L576.63,190.37 L577.07,190.72 L577.50,191.36 L578.17,191.55 L578.85,191.52 L579.53,192.26 L580.20,192.38 L580.80,192.61 L581.40,192.59 L582.00,192.25 L582.60,192.15 L583.20,192.12 L583.85,192.95 L584.50,193.46 L584.94,193.62 L585.38,193.96 L585.82,194.51 L586.26,195.18 L586.71,195.62 L587.15,196.12 L587.59,196.61 L588.03,196.95 L588.47,197.41 L588.91,197.44 L589.35,197.81 L589.79,198.66 L590.24,199.04 L590.68,199.32 L591.12,199.63 L591.56,200.15 L592.00,200.60 L592.44,201.11 L592.89,201.52 L593.33,201.81 L593.78,202.16 L594.22,202.63 L594.67,203.02 L595.11,203.42 L595.56,204.00 L596.00,204.30 L596.44,205.04 L596.89,205.38 L597.33,205.75 L597.78,206.26 L598.22,206.49 L598.67,206.78 L599.11,207.21 L599.56,207.76 L600.00,208.21 L600.43,208.59 L600.87,209.03 L601.31,209.72 L601.74,209.78 L602.17,210.37 L602.61,210.78 L603.05,211.16 L603.48,211.79 L603.91,212.00 L604.35,212.30 L604.79,212.77 L605.22,213.61 L605.65,213.78 L606.09,214.05 L606.53,214.88 L606.96,215.20 L607.39,215.77 L607.83,215.90 L608.27,216.52 L608.70,216.59 L609.13,217.06 L609.56,217.76 L609.99,218.09 L610.42,218.63 L610.85,218.87 L611.28,219.50 L611.71,219.56 L612.14,220.19 L612.57,220.43 L613.00,220.83 L613.43,221.60 L613.86,221.85 L614.29,222.44 L614.72,222.64 L615.15,223.25 L615.58,223.80 L616.01,224.11 L616.44,224.32 L616.87,224.94 L617.30,225.54 L617.92,225.83 L618.54,225.98 L619.16,226.27 L619.78,226.45 L620.40,227.10 L620.91,227.24 L621.43,227.64 L621.94,227.94 L622.46,228.39 L622.97,228.91 L623.49,229.37 L624.00,229.63 L624.50,230.34 L625.00,231.12 L625.53,231.22 L626.06,231.59 L626.59,232.18 L627.11,232.80 L627.64,233.24 L628.17,233.47 L628.70,233.61 L629.24,234.36 L629.79,234.87 L630.33,235.24 L630.87,235.45 L631.41,235.75 L631.96,236.24 L632.50,236.75 L632.91,237.38 L633.32,237.66 L633.73,238.14 L634.14,238.55 L634.55,239.16 L634.96,239.68 L635.37,240.06 L635.78,240.64 L636.19,241.39 L636.60,241.60 L637.08,241.10 L637.56,240.66 L638.04,240.48 L638.52,239.79 L639.00,239.55 L639.70,239.89 L640.40,240.12 L640.86,240.55 L641.32,240.70 L641.78,241.24 L642.24,241.90 L642.70,242.10 L643.17,241.77 L643.63,241.46 L644.10,241.05 L644.80,240.76 L645.50,240.60 L645.82,239.92 L646.13,239.44 L646.45,238.95 L646.77,238.22 L647.08,237.86 L647.40,237.20 L647.98,237.53 L648.55,237.97 L649.12,238.09 L649.70,238.57 L650.28,238.66 L650.85,238.83 L651.42,238.97 L652.00,239.51 L652.25,238.92 L652.50,237.80 L652.75,237.38 L653.00,236.39 L653.60,236.69 L654.20,236.83 L654.80,237.29 L655.43,237.39 L656.07,237.70 L656.70,237.93 L657.00,237.23 L657.30,236.58 L657.60,235.86 L657.98,236.30 L658.36,237.04 L658.74,237.66 L659.12,238.12 L659.50,238.40 L659.97,238.33 L660.43,237.52 L660.90,237.24 L661.37,236.81 L661.83,236.33 L662.30,236.30 L662.90,235.77 L663.50,235.00 L664.10,234.51 L664.58,234.25 L665.05,233.51 L665.52,232.87 L666.00,232.28 L666.40,231.77 L666.80,231.37 L667.20,230.72 L667.60,230.32 L668.00,229.54 L668.40,229.21 L668.80,228.74 L669.07,228.02 L669.34,227.67 L669.61,227.14 L669.89,226.41 L670.16,225.67 L670.43,224.93 L670.70,224.54 L670.93,223.78 L671.17,223.08 L671.40,222.64 L671.63,221.88 L671.87,221.46 L672.10,220.94 L672.23,219.90 L672.36,219.49 L672.49,218.64 L672.61,218.01 L672.74,217.54 L672.87,217.02 L673.00,216.04 L673.08,215.60 L673.17,214.81 L673.25,214.46 L673.33,213.50 L673.42,213.08 L673.50,212.20 L673.53,211.78 L673.57,211.27 L673.60,210.75 L673.63,210.07 L673.67,209.32 L673.70,208.61 L673.73,208.08 L673.77,207.48 L673.80,206.84 L673.83,206.27 L673.87,205.67 L673.90,205.14 L673.94,204.38 L673.98,203.87 L674.02,203.20 L674.07,202.40 L674.11,201.96 L674.15,201.15 L674.19,200.74 L674.23,200.18 L674.27,199.58 L674.32,198.97 L674.36,198.25 L674.40,197.50" fill="none" stroke="#9c1f27" stroke-width="1.35" stroke-linejoin="round"/>
<rect x="534.7" y="248" width="0.8" height="9.6" fill="#505050"/>
<rect x="534.7" y="248" width="0.6" height="9.6" fill="#707070"/>
<rect x="536.9" y="248" width="3.2" height="9.6" fill="#8c8c8c"/>
<rect x="536.9" y="248" width="0.6" height="9.6" fill="#cccccc"/>
<rect x="538.1" y="248" width="0.8" height="9.6" fill="#cccccc"/>
<rect x="539.5" y="248" width="0.4" height="9.6" fill="#b8b8b8"/>
<rect x="542.3" y="248" width="1.6" height="9.6" fill="#505050"/>
<rect x="542.3" y="248" width="0.4" height="9.6" fill="#101010"/>
<rect x="543.6" y="248" width="0.3" height="9.6" fill="#909090"/>
<rect x="548.2" y="248" width="2.3" height="9.6" fill="#8c8c8c"/>
<rect x="548.2" y="248" width="0.4" height="9.6" fill="#505050"/>
<rect x="548.9" y="248" width="0.4" height="9.6" fill="#666666"/>
<rect x="550.5" y="248" width="3.1" height="9.6" fill="#505050"/>
<rect x="550.5" y="248" width="0.6" height="9.6" fill="#444444"/>
<rect x="551.4" y="248" width="0.8" height="9.6" fill="#5a5a5a"/>
<rect x="553.1" y="248" width="0.5" height="9.6" fill="#444444"/>
<rect x="559.5" y="248" width="1.1" height="9.6" fill="#8c8c8c"/>
<rect x="559.5" y="248" width="0.8" height="9.6" fill="#b8b8b8"/>
<rect x="562.8" y="248" width="0.8" height="9.6" fill="#8c8c8c"/>
<rect x="562.8" y="248" width="0.4" height="9.6" fill="#666666"/>
<rect x="565.5" y="248" width="0.8" height="9.6" fill="#505050"/>
<rect x="565.5" y="248" width="0.4" height="9.6" fill="#707070"/>
<rect x="570.9" y="248" width="2.7" height="9.6" fill="#505050"/>
<rect x="570.9" y="248" width="0.4" height="9.6" fill="#909090"/>
<rect x="571.9" y="248" width="0.4" height="9.6" fill="#101010"/>
<rect x="573.2" y="248" width="0.4" height="9.6" fill="#181818"/>
<rect x="577.4" y="248" width="0.8" height="9.6" fill="#505050"/>
<rect x="577.4" y="248" width="0.8" height="9.6" fill="#707070"/>
<rect x="579.5" y="248" width="3.3" height="9.6" fill="#505050"/>
<rect x="579.5" y="248" width="0.4" height="9.6" fill="#444444"/>
<rect x="581.1" y="248" width="0.6" height="9.6" fill="#303030"/>
<rect x="590.3" y="248" width="2.2" height="9.6" fill="#8c8c8c"/>
<rect x="590.3" y="248" width="0.6" height="9.6" fill="#808080"/>
<rect x="591.5" y="248" width="0.8" height="9.6" fill="#505050"/>
<rect x="599" y="248" width="0.8" height="9.6" fill="#505050"/>
<rect x="599" y="248" width="0.6" height="9.6" fill="#181818"/>
<rect x="605" y="248" width="1.2" height="9.6" fill="#505050"/>
<rect x="605" y="248" width="0.4" height="9.6" fill="#707070"/>
<rect x="607.2" y="248" width="4.4" height="9.6" fill="#8c8c8c"/>
<rect x="607.2" y="248" width="0.8" height="9.6" fill="#808080"/>
<rect x="608.3" y="248" width="0.8" height="9.6" fill="#b8b8b8"/>
<rect x="609.7" y="248" width="0.8" height="9.6" fill="#a0a0a0"/>
<rect x="613.7" y="248" width="0.8" height="9.6" fill="#505050"/>
<rect x="613.7" y="248" width="0.6" height="9.6" fill="#444444"/>
<rect x="617" y="248" width="2.7" height="9.6" fill="#505050"/>
<rect x="617" y="248" width="0.6" height="9.6" fill="#707070"/>
<rect x="617.9" y="248" width="0.4" height="9.6" fill="#444444"/>
<rect x="622.4" y="248" width="3.2" height="9.6" fill="#8c8c8c"/>
<rect x="622.4" y="248" width="0.6" height="9.6" fill="#666666"/>
<rect x="623.9" y="248" width="0.4" height="9.6" fill="#cccccc"/>
<rect x="624.9" y="248" width="0.7" height="9.6" fill="#808080"/>
<rect x="629.4" y="248" width="0.8" height="9.6" fill="#505050"/>
<rect x="629.4" y="248" width="0.6" height="9.6" fill="#303030"/>
<rect x="631.5" y="248" width="0.8" height="9.6" fill="#8c8c8c"/>
<rect x="631.5" y="248" width="0.4" height="9.6" fill="#808080"/>
<rect x="636.4" y="248" width="3.2" height="9.6" fill="#505050"/>
<rect x="636.4" y="248" width="0.6" height="9.6" fill="#303030"/>
<rect x="637.6" y="248" width="0.4" height="9.6" fill="#909090"/>
<rect x="638.9" y="248" width="0.7" height="9.6" fill="#101010"/>
<rect x="641.8" y="248" width="5.4" height="9.6" fill="#8c8c8c"/>
<rect x="641.8" y="248" width="0.8" height="9.6" fill="#666666"/>
<rect x="643.2" y="248" width="0.8" height="9.6" fill="#cccccc"/>
<rect x="644.3" y="248" width="0.4" height="9.6" fill="#b8b8b8"/>
<rect x="645.3" y="248" width="0.8" height="9.6" fill="#b8b8b8"/>
<rect x="649.4" y="248" width="2.1" height="9.6" fill="#8c8c8c"/>
<rect x="649.4" y="248" width="0.8" height="9.6" fill="#808080"/>
<rect x="650.8" y="248" width="0.4" height="9.6" fill="#505050"/>
<rect x="652" y="248" width="0.8" height="9.6" fill="#505050"/>
<rect x="652" y="248" width="0.8" height="9.6" fill="#909090"/>
<rect x="655.9" y="248" width="4.1" height="9.6" fill="#505050"/>
<rect x="655.9" y="248" width="0.6" height="9.6" fill="#5a5a5a"/>
<rect x="657.1" y="248" width="0.8" height="9.6" fill="#444444"/>
<rect x="658.8" y="248" width="0.4" height="9.6" fill="#707070"/>
<rect x="659.5" y="248" width="0.5" height="9.6" fill="#5a5a5a"/>
<rect x="660" y="248" width="4" height="9.6" fill="#8c8c8c"/>
<rect x="660" y="248" width="0.6" height="9.6" fill="#505050"/>
<rect x="661.5" y="248" width="0.4" height="9.6" fill="#cccccc"/>
<rect x="662.5" y="248" width="0.6" height="9.6" fill="#b8b8b8"/>
<rect x="664" y="248" width="10.2" height="9.6" fill="#505050"/>
<rect x="664" y="248" width="0.4" height="9.6" fill="#5a5a5a"/>
<rect x="664.7" y="248" width="0.6" height="9.6" fill="#303030"/>
<rect x="666.2" y="248" width="0.4" height="9.6" fill="#303030"/>
<rect x="667.5" y="248" width="0.8" height="9.6" fill="#181818"/>
<rect x="669.5" y="248" width="0.6" height="9.6" fill="#909090"/>
<rect x="670.7" y="248" width="0.4" height="9.6" fill="#909090"/>
<rect x="672.3" y="248" width="0.8" height="9.6" fill="#101010"/>
<rect x="535" y="257.9" width="7.85" height="7.1" fill="#dc4433"/>
<rect x="542.8" y="257.9" width="16.25" height="7.1" fill="#ee7a5e"/>
<rect x="559" y="257.9" width="11.95" height="7.1" fill="#f3ab92"/>
<rect x="570.9" y="257.9" width="20.55" height="7.1" fill="#fde3d8"/>
<rect x="591.4" y="257.9" width="12.45" height="7.1" fill="#e8eef8"/>
<rect x="603.8" y="257.9" width="32.15" height="7.1" fill="#bcd6ea"/>
<rect x="635.9" y="257.9" width="20.05" height="7.1" fill="#6eaad6"/>
<rect x="655.9" y="257.9" width="19.35" height="7.1" fill="#4a86c4"/>
<rect x="633.11" y="257.9" width="0.94" height="7.1" fill="#000" fill-opacity="0.07"/>
<rect x="666.43" y="257.9" width="0.88" height="7.1" fill="#000" fill-opacity="0.07"/>
<rect x="583.75" y="257.9" width="0.44" height="7.1" fill="#000" fill-opacity="0.07"/>
<rect x="546.17" y="257.9" width="0.52" height="7.1" fill="#000" fill-opacity="0.07"/>
<rect x="657.08" y="257.9" width="0.47" height="7.1" fill="#000" fill-opacity="0.07"/>
<rect x="557.63" y="257.9" width="0.47" height="7.1" fill="#000" fill-opacity="0.07"/>
<rect x="639.15" y="257.9" width="0.46" height="7.1" fill="#000" fill-opacity="0.07"/>
<rect x="580.95" y="257.9" width="0.85" height="7.1" fill="#000" fill-opacity="0.07"/>
<rect x="541.51" y="257.9" width="0.49" height="7.1" fill="#000" fill-opacity="0.07"/>
<rect x="618.42" y="257.9" width="0.81" height="7.1" fill="#000" fill-opacity="0.07"/>
<rect x="543.23" y="257.9" width="0.5" height="7.1" fill="#000" fill-opacity="0.07"/>
<rect x="628.66" y="257.9" width="0.89" height="7.1" fill="#000" fill-opacity="0.07"/>
<rect x="636.96" y="257.9" width="0.81" height="7.1" fill="#000" fill-opacity="0.07"/>
<rect x="589.41" y="257.9" width="0.81" height="7.1" fill="#000" fill-opacity="0.07"/>
<rect x="617.29" y="257.9" width="0.77" height="7.1" fill="#000" fill-opacity="0.07"/>
<rect x="575.91" y="257.9" width="0.71" height="7.1" fill="#000" fill-opacity="0.07"/>
<rect x="557.34" y="257.9" width="0.68" height="7.1" fill="#000" fill-opacity="0.07"/>
<rect x="613.64" y="257.9" width="0.98" height="7.1" fill="#000" fill-opacity="0.07"/>
<rect x="644.32" y="257.9" width="0.74" height="7.1" fill="#000" fill-opacity="0.07"/>
<rect x="656.46" y="257.9" width="0.98" height="7.1" fill="#000" fill-opacity="0.07"/>
<rect x="637.61" y="257.9" width="0.84" height="7.1" fill="#000" fill-opacity="0.07"/>
<rect x="553.26" y="257.9" width="0.8" height="7.1" fill="#000" fill-opacity="0.07"/>
<rect x="562.18" y="257.9" width="0.66" height="7.1" fill="#000" fill-opacity="0.07"/>
<rect x="574.28" y="257.9" width="0.71" height="7.1" fill="#000" fill-opacity="0.07"/>
<rect x="661.74" y="257.9" width="0.52" height="7.1" fill="#000" fill-opacity="0.07"/>
<rect x="558.09" y="257.9" width="0.73" height="7.1" fill="#000" fill-opacity="0.07"/>
<rect x="581.45" y="257.9" width="0.99" height="7.1" fill="#000" fill-opacity="0.07"/>
<rect x="590.47" y="257.9" width="0.76" height="7.1" fill="#000" fill-opacity="0.07"/>
<rect x="536" y="257.9" width="0.8" height="7.1" fill="#000" fill-opacity="0.07"/>
<rect x="548.77" y="257.9" width="0.49" height="7.1" fill="#000" fill-opacity="0.07"/>
<rect x="592.13" y="257.9" width="0.76" height="7.1" fill="#000" fill-opacity="0.07"/>
<rect x="603.24" y="257.9" width="0.87" height="7.1" fill="#000" fill-opacity="0.07"/>
<rect x="562.28" y="257.9" width="0.43" height="7.1" fill="#000" fill-opacity="0.07"/>
<rect x="586.91" y="257.9" width="0.94" height="7.1" fill="#000" fill-opacity="0.07"/>
<rect x="585.83" y="257.9" width="0.51" height="7.1" fill="#000" fill-opacity="0.07"/>
<rect x="590.66" y="257.9" width="0.63" height="7.1" fill="#000" fill-opacity="0.07"/>
<rect x="592.42" y="257.9" width="0.62" height="7.1" fill="#000" fill-opacity="0.07"/>
<rect x="550.38" y="257.9" width="0.87" height="7.1" fill="#000" fill-opacity="0.07"/>
<rect x="590.15" y="257.9" width="0.86" height="7.1" fill="#000" fill-opacity="0.07"/>
<rect x="536.74" y="257.9" width="0.62" height="7.1" fill="#000" fill-opacity="0.07"/>
<rect x="627.44" y="257.9" width="0.43" height="7.1" fill="#000" fill-opacity="0.07"/>
<rect x="574.91" y="257.9" width="0.94" height="7.1" fill="#000" fill-opacity="0.07"/>
<rect x="557.86" y="257.9" width="0.66" height="7.1" fill="#000" fill-opacity="0.07"/>
<rect x="617.26" y="257.9" width="0.71" height="7.1" fill="#000" fill-opacity="0.07"/>
<rect x="670.19" y="257.9" width="0.49" height="7.1" fill="#000" fill-opacity="0.07"/>
<line x1="535" y1="248" x2="535" y2="265" stroke="#444" stroke-width="0.9"/>
<path d="M535.5,293.0 L535.50,266.81 L535.85,266.81 L536.20,268.32 L536.54,273.98 L536.89,277.19 L537.24,279.32 L537.59,280.84 L537.94,282.00 L538.28,282.92 L538.63,283.66 L538.98,284.29 L539.33,284.82 L539.68,285.27 L540.02,285.67 L540.37,286.02 L540.72,286.34 L541.07,286.62 L541.42,286.87 L541.76,287.10 L542.11,287.32 L542.46,287.51 L542.81,287.69 L543.16,287.86 L543.50,288.01 L543.85,288.15 L544.20,288.29 L544.55,288.42 L544.90,288.53 L545.24,288.65 L545.59,288.75 L545.94,288.85 L546.29,288.95 L546.64,289.04 L546.98,289.12 L547.33,289.21 L547.68,289.28 L548.03,289.36 L548.38,289.43 L548.72,289.50 L549.07,289.57 L549.42,289.63 L549.77,289.69 L550.12,289.75 L550.46,289.80 L550.81,289.86 L551.16,289.91 L551.51,289.96 L551.86,290.01 L552.20,290.06 L552.55,290.11 L552.90,290.15 L553.25,290.19 L553.60,290.24 L553.94,290.28 L554.29,290.32 L554.64,290.36 L554.99,290.39 L555.34,290.43 L555.68,290.47 L556.03,290.50 L556.38,290.54 L556.73,290.57 L557.08,290.60 L557.42,290.63 L557.77,290.67 L558.12,290.70 L558.47,290.73 L558.82,290.76 L559.16,290.78 L559.51,290.81 L559.86,290.84 L560.21,290.87 L560.56,290.89 L560.90,290.92 L561.25,290.94 L561.60,290.97 L561.95,290.99 L562.30,291.02 L562.64,291.04 L562.99,291.06 L563.34,291.09 L563.69,291.11 L564.04,291.13 L564.38,291.15 L564.73,291.18 L565.08,291.20 L565.43,291.22 L565.78,291.24 L566.12,291.26 L566.47,291.28 L566.82,291.30 L567.17,291.32 L567.52,291.34 L567.86,291.36 L568.21,291.38 L568.56,291.39 L568.91,291.41 L569.26,291.43 L569.60,291.45 L569.95,291.47 L570.30,291.48 L570.65,291.50 L571.00,291.52 L571.34,291.54 L571.69,291.55 L572.04,291.57 L572.39,291.59 L572.74,291.60 L573.08,291.62 L573.43,291.64 L573.78,291.65 L574.13,291.67 L574.48,291.68 L574.82,291.70 L575.17,291.72 L575.52,291.73 L575.87,291.75 L576.22,291.76 L576.56,291.78 L576.91,291.79 L577.26,291.81 L577.61,291.82 L577.96,291.84 L578.30,291.85 L578.65,291.87 L579.00,291.88 L579.35,291.90 L579.70,291.91 L580.04,291.93 L580.39,291.94 L580.74,291.96 L581.09,291.97 L581.44,291.99 L581.78,292.00 L582.13,292.02 L582.48,292.03 L582.83,292.04 L583.18,292.06 L583.52,292.07 L583.87,292.09 L584.22,292.10 L584.57,292.12 L584.92,292.13 L585.26,292.15 L585.61,292.16 L585.96,292.18 L586.31,292.19 L586.66,292.21 L587.00,292.22 L587.35,292.24 L587.70,292.25 L588.05,292.27 L588.40,292.28 L588.74,292.30 L589.09,292.31 L589.44,292.33 L589.79,292.34 L590.14,292.36 L590.48,292.37 L590.83,292.39 L591.18,292.41 L591.53,292.42 L591.88,292.44 L592.22,292.46 L592.57,292.47 L592.92,292.49 L593.27,292.51 L593.62,292.53 L593.96,292.54 L594.31,292.56 L594.66,292.58 L595.01,292.60 L595.36,292.62 L595.70,292.64 L596.05,292.66 L596.40,292.69 L596.75,292.71 L597.10,292.73 L597.44,292.76 L597.79,292.78 L598.14,292.81 L598.49,292.84 L598.84,292.88 L599.18,292.92 L599.53,293.00 L599.88,293.07 L600.23,293.11 L600.58,293.14 L600.92,293.17 L601.27,293.19 L601.62,293.22 L601.97,293.24 L602.32,293.26 L602.66,293.28 L603.01,293.30 L603.36,293.32 L603.71,293.34 L604.06,293.36 L604.40,293.38 L604.75,293.39 L605.10,293.41 L605.45,293.43 L605.80,293.44 L606.14,293.46 L606.49,293.47 L606.84,293.49 L607.19,293.50 L607.54,293.52 L607.88,293.53 L608.23,293.55 L608.58,293.56 L608.93,293.58 L609.28,293.59 L609.62,293.60 L609.97,293.62 L610.32,293.63 L610.67,293.65 L611.02,293.66 L611.36,293.67 L611.71,293.69 L612.06,293.70 L612.41,293.71 L612.76,293.72 L613.10,293.74 L613.45,293.75 L613.80,293.76 L614.15,293.78 L614.50,293.79 L614.84,293.80 L615.19,293.81 L615.54,293.83 L615.89,293.84 L616.24,293.85 L616.58,293.86 L616.93,293.88 L617.28,293.89 L617.63,293.90 L617.98,293.91 L618.32,293.93 L618.67,293.94 L619.02,293.95 L619.37,293.96 L619.72,293.98 L620.06,293.99 L620.41,294.00 L620.76,294.01 L621.11,294.03 L621.46,294.04 L621.80,294.05 L622.15,294.06 L622.50,294.08 L622.85,294.09 L623.20,294.10 L623.54,294.11 L623.89,294.13 L624.24,294.14 L624.59,294.15 L624.94,294.16 L625.28,294.18 L625.63,294.19 L625.98,294.20 L626.33,294.22 L626.68,294.23 L627.02,294.24 L627.37,294.26 L627.72,294.27 L628.07,294.28 L628.42,294.30 L628.76,294.31 L629.11,294.32 L629.46,294.34 L629.81,294.35 L630.16,294.36 L630.50,294.38 L630.85,294.39 L631.20,294.41 L631.55,294.42 L631.90,294.43 L632.24,294.45 L632.59,294.46 L632.94,294.48 L633.29,294.49 L633.64,294.51 L633.98,294.52 L634.33,294.54 L634.68,294.55 L635.03,294.57 L635.38,294.58 L635.72,294.60 L636.07,294.61 L636.42,294.63 L636.77,294.65 L637.12,294.66 L637.46,294.68 L637.81,294.70 L638.16,294.71 L638.51,294.73 L638.86,294.75 L639.20,294.76 L639.55,294.78 L639.90,294.80 L640.25,294.82 L640.60,294.84 L640.94,294.85 L641.29,294.87 L641.64,294.89 L641.99,294.91 L642.34,294.93 L642.68,294.95 L643.03,294.97 L643.38,294.99 L643.73,295.01 L644.08,295.03 L644.42,295.05 L644.77,295.08 L645.12,295.10 L645.47,295.12 L645.82,295.14 L646.16,295.16 L646.51,295.19 L646.86,295.21 L647.21,295.24 L647.56,295.26 L647.90,295.29 L648.25,295.31 L648.60,295.34 L648.95,295.36 L649.30,295.39 L649.64,295.42 L649.99,295.45 L650.34,295.48 L650.69,295.51 L651.04,295.53 L651.38,295.57 L651.73,295.60 L652.08,295.63 L652.43,295.66 L652.78,295.69 L653.12,295.73 L653.47,295.76 L653.82,295.80 L654.17,295.84 L654.52,295.88 L654.86,295.91 L655.21,295.95 L655.56,295.99 L655.91,296.04 L656.26,296.08 L656.60,296.12 L656.95,296.17 L657.30,296.22 L657.65,296.27 L658.00,296.32 L658.34,296.37 L658.69,296.42 L659.04,296.48 L659.39,296.54 L659.74,296.60 L660.08,296.66 L660.43,296.72 L660.78,296.79 L661.13,296.86 L661.48,296.93 L661.82,297.01 L662.17,297.08 L662.52,297.17 L662.87,297.25 L663.22,297.34 L663.56,297.44 L663.91,297.54 L664.26,297.64 L664.61,297.75 L664.96,297.87 L665.30,297.99 L665.65,298.12 L666.00,298.26 L666.35,298.41 L666.70,298.57 L667.04,298.74 L667.39,298.92 L667.74,299.12 L668.09,299.33 L668.44,299.56 L668.78,299.82 L669.13,300.10 L669.48,300.41 L669.83,300.76 L670.18,301.15 L670.52,301.59 L670.87,302.09 L671.22,302.68 L671.57,303.37 L671.92,304.19 L672.26,305.21 L672.61,306.49 L672.96,308.18 L673.31,310.53 L673.66,311.27 L674.00,311.27 L674.35,311.27 L674.70,311.27 L674.7,293.0 Z" fill="#d2d3d5"/>
<line x1="535" y1="266.7" x2="535" y2="313.4" stroke="#707070" stroke-width="1"/>
<line x1="534.5" y1="312.9" x2="675.2" y2="312.9" stroke="#707070" stroke-width="1"/>
<line x1="530.6" y1="272.7" x2="535" y2="272.7" stroke="#707070" stroke-width="1"/>
<text x="517.22" y="275.45" font-size="8.3" fill="#2c2c2c" stroke="#2c2c2c" stroke-width="0.06" textLength="10.12" lengthAdjust="spacingAndGlyphs">10</text>
<line x1="530.6" y1="293" x2="535" y2="293" stroke="#707070" stroke-width="1"/>
<text x="521.26" y="295.75" font-size="8.3" fill="#2c2c2c" stroke="#2c2c2c" stroke-width="0.06" textLength="6.14" lengthAdjust="spacingAndGlyphs">0</text>
<line x1="530.6" y1="312.9" x2="535" y2="312.9" stroke="#707070" stroke-width="1"/>
<text x="513.29" y="315.65" font-size="8.3" fill="#2c2c2c" stroke="#2c2c2c" stroke-width="0.06" textLength="14.01" lengthAdjust="spacingAndGlyphs">−10</text>
<line x1="562" y1="312.9" x2="562" y2="316.3" stroke="#707070" stroke-width="1"/>
<text x="548.99" y="327.9" font-size="8.3" fill="#2c2c2c" stroke="#2c2c2c" stroke-width="0.06" textLength="25.49" lengthAdjust="spacingAndGlyphs">5,000</text>
<line x1="616.3" y1="312.9" x2="616.3" y2="316.3" stroke="#707070" stroke-width="1"/>
<text x="601.69" y="327.9" font-size="8.3" fill="#2c2c2c" stroke="#2c2c2c" stroke-width="0.06" textLength="28.82" lengthAdjust="spacingAndGlyphs">15,000</text>
<line x1="670.5" y1="312.9" x2="670.5" y2="316.3" stroke="#707070" stroke-width="1"/>
<text x="655.11" y="327.9" font-size="8.3" fill="#2c2c2c" stroke="#2c2c2c" stroke-width="0.06" textLength="30.02" lengthAdjust="spacingAndGlyphs">25,000</text>
<text x="548.05" y="344.5" font-size="10.2" fill="#2c2c2c" stroke="#2c2c2c" stroke-width="0.06" textLength="113.14" lengthAdjust="spacingAndGlyphs">Rank in ordered dataset</text>
<text x="503.7" y="216.61" font-size="10.4" fill="#2c2c2c" stroke="#2c2c2c" stroke-width="0.06" textLength="11.85" lengthAdjust="spacingAndGlyphs" transform="rotate(-90 503.7 216.61)">ES</text>
<text x="504.7" y="312.15" font-size="10.2" fill="#2c2c2c" stroke="#2c2c2c" stroke-width="0.06" textLength="43.82" lengthAdjust="spacingAndGlyphs" transform="rotate(-90 504.7 312.15)">Wald stat</text>
<text x="620.07" y="183.4" font-size="8.7" fill="#2c2c2c" stroke="#2c2c2c" stroke-width="0.06" textLength="41.47" lengthAdjust="spacingAndGlyphs"><tspan font-style="italic">P</tspan> <tspan font-size="5.2" dy="-0.4">=</tspan><tspan dy="0.4">0.0382</tspan></text>
<text x="9" y="265.57" font-size="11.0" fill="#e8333a" stroke="#e8333a" stroke-width="0.06" textLength="35.16" lengthAdjust="spacingAndGlyphs" transform="rotate(-90 9 265.57)">UP with</text>
<text x="19.8" y="280.74" font-size="11.0" fill="#e8333a" stroke="#e8333a" stroke-width="0.06" textLength="66.05" lengthAdjust="spacingAndGlyphs" transform="rotate(-90 19.8 280.74)">ovarian aging</text>
<text x="247.1" y="286.64" font-size="11.0" fill="#3b5aa8" stroke="#3b5aa8" stroke-width="0.06" textLength="54.74" lengthAdjust="spacingAndGlyphs" transform="rotate(-90 247.1 286.64)">DOWN with</text>
<text x="258" y="290.22" font-size="11.0" fill="#3b5aa8" stroke="#3b5aa8" stroke-width="0.06" textLength="62.59" lengthAdjust="spacingAndGlyphs" transform="rotate(-90 258 290.22)">ovarian aging</text>
<text x="488.8" y="280.17" font-size="11.0" fill="#a3272b" stroke="#a3272b" stroke-width="0.06" textLength="43.68" lengthAdjust="spacingAndGlyphs" transform="rotate(-90 488.8 280.17)">SenMayo</text>
<rect x="57.5" y="386.1" width="94.4" height="217.6" fill="none" stroke="#a2a2a2" stroke-width="1.1"/>
<line x1="53.7" y1="437.1" x2="57.5" y2="437.1" stroke="#a2a2a2" stroke-width="1"/>
<text x="32.54" y="439.9" font-size="8.3" fill="#2c2c2c" stroke="#2c2c2c" stroke-width="0.06" textLength="17.49" lengthAdjust="spacingAndGlyphs">10.0</text>
<line x1="53.7" y1="504.6" x2="57.5" y2="504.6" stroke="#a2a2a2" stroke-width="1"/>
<text x="36.45" y="507.4" font-size="8.3" fill="#2c2c2c" stroke="#2c2c2c" stroke-width="0.06" textLength="13.64" lengthAdjust="spacingAndGlyphs">9.5</text>
<line x1="53.7" y1="572.4" x2="57.5" y2="572.4" stroke="#a2a2a2" stroke-width="1"/>
<text x="36.46" y="575.2" font-size="8.3" fill="#2c2c2c" stroke="#2c2c2c" stroke-width="0.06" textLength="13.59" lengthAdjust="spacingAndGlyphs">9.0</text>
<line x1="84.7" y1="603.7" x2="84.7" y2="607.6" stroke="#a2a2a2" stroke-width="1"/>
<line x1="124.9" y1="603.7" x2="124.9" y2="607.6" stroke="#a2a2a2" stroke-width="1"/>
<text x="60.55" y="379" font-size="10.2" fill="#2c2c2c" stroke="#2c2c2c" stroke-width="0.06" textLength="93" lengthAdjust="spacingAndGlyphs">Expression of <tspan font-style="italic">Cd38</tspan></text>
<text x="85.74" y="398.6" font-size="8.5" fill="#2c2c2c" stroke="#2c2c2c" stroke-width="0.06" textLength="36.34" lengthAdjust="spacingAndGlyphs"><tspan font-style="italic">P</tspan> <tspan font-size="5.2" dy="-0.4">=</tspan><tspan dy="0.4">0.0111</tspan></text>
<line x1="84.9" y1="461.9" x2="84.9" y2="470.2" stroke="#a0a0a0" stroke-width="0.9"/>
<line x1="84.9" y1="485.5" x2="84.9" y2="493.4" stroke="#a0a0a0" stroke-width="0.9"/>
<line x1="78.1" y1="461.9" x2="91.7" y2="461.9" stroke="#8a8a8a" stroke-width="0.9"/>
<line x1="78.1" y1="493.4" x2="91.7" y2="493.4" stroke="#8a8a8a" stroke-width="0.9"/>
<rect x="71.2" y="470.2" width="27.4" height="15.3" fill="#7a4c9c" stroke="#5a5a5a" stroke-width="0.7"/>
<rect x="71.2" y="473.2" width="27.4" height="3.6" fill="#211d21"/>
<line x1="125.05" y1="481.3" x2="125.05" y2="487.2" stroke="#a0a0a0" stroke-width="0.9"/>
<line x1="125.05" y1="513.2" x2="125.05" y2="527.9" stroke="#a0a0a0" stroke-width="0.9"/>
<line x1="118.25" y1="481.3" x2="131.85" y2="481.3" stroke="#8a8a8a" stroke-width="0.9"/>
<line x1="118.25" y1="527.9" x2="131.85" y2="527.9" stroke="#8a8a8a" stroke-width="0.9"/>
<rect x="111.4" y="487.2" width="27.3" height="26" fill="#f6a21c" stroke="#5a5a5a" stroke-width="0.7"/>
<rect x="111.4" y="502" width="27.3" height="3.6" fill="#211d21"/>
<circle cx="85" cy="461.9" r="2.05" fill="#111" stroke="#fff" stroke-width="0.45"/>
<circle cx="83.4" cy="469.4" r="2.05" fill="#111" stroke="#fff" stroke-width="0.45"/>
<circle cx="89.4" cy="471.2" r="2.05" fill="#111" stroke="#fff" stroke-width="0.45"/>
<circle cx="84.8" cy="474.7" r="2.0" fill="#2a2a2a" stroke="#ffffff" stroke-width="0.9"/>
<circle cx="84.8" cy="480.6" r="2.0" fill="#2a2a2a" stroke="#ffffff" stroke-width="0.9"/>
<circle cx="89" cy="489.9" r="2.05" fill="#111" stroke="#fff" stroke-width="0.45"/>
<circle cx="84.8" cy="493.6" r="2.05" fill="#111" stroke="#fff" stroke-width="0.45"/>
<circle cx="130" cy="481.2" r="2.05" fill="#111" stroke="#fff" stroke-width="0.45"/>
<circle cx="125.3" cy="484" r="2.05" fill="#111" stroke="#fff" stroke-width="0.45"/>
<circle cx="125.3" cy="490.3" r="2.0" fill="#2a2a2a" stroke="#ffffff" stroke-width="0.9"/>
<circle cx="125.3" cy="503.9" r="2.0" fill="#2a2a2a" stroke="#ffffff" stroke-width="0.9"/>
<circle cx="125.3" cy="514.3" r="2.05" fill="#111" stroke="#fff" stroke-width="0.45"/>
<circle cx="130.4" cy="512.5" r="2.05" fill="#111" stroke="#fff" stroke-width="0.45"/>
<circle cx="125.3" cy="527.9" r="2.05" fill="#111" stroke="#fff" stroke-width="0.45"/>
<text x="25.2" y="569.63" font-size="10.3" fill="#2c2c2c" stroke="#2c2c2c" stroke-width="0.06" textLength="148.61" lengthAdjust="spacingAndGlyphs" transform="rotate(-90 25.2 569.63)">DESeq2 normalized log<tspan font-size="7" dy="1.6">2</tspan><tspan dy="-1.6"> counts</tspan></text>
<text x="87.5" y="618.7" font-size="8.4" fill="#2c2c2c" stroke="#2c2c2c" stroke-width="0.06" text-anchor="end" transform="rotate(-45 87.5 618.7)">FMT-YF</text>
<text x="94.8" y="626.2" font-size="8.6" fill="#2c2c2c" stroke="#2c2c2c" stroke-width="0.06" text-anchor="end" transform="rotate(-45 94.8 626.2)">(<tspan font-style="italic">n</tspan> = 7)</text>
<text x="127.7" y="618.7" font-size="8.4" fill="#2c2c2c" stroke="#2c2c2c" stroke-width="0.06" text-anchor="end" transform="rotate(-45 127.7 618.7)">FMT-EF</text>
<text x="135" y="626.2" font-size="8.6" fill="#2c2c2c" stroke="#2c2c2c" stroke-width="0.06" text-anchor="end" transform="rotate(-45 135 626.2)">(<tspan font-style="italic">n</tspan> = 7)</text>
<rect x="239.6" y="386.1" width="94.4" height="217.7" fill="none" stroke="#a2a2a2" stroke-width="1.1"/>
<line x1="235.8" y1="400" x2="239.6" y2="400" stroke="#a2a2a2" stroke-width="1"/>
<text x="218.55" y="402.8" font-size="8.3" fill="#2c2c2c" stroke="#2c2c2c" stroke-width="0.06" textLength="13.64" lengthAdjust="spacingAndGlyphs">8.5</text>
<line x1="235.8" y1="436.3" x2="239.6" y2="436.3" stroke="#a2a2a2" stroke-width="1"/>
<text x="218.56" y="439.1" font-size="8.3" fill="#2c2c2c" stroke="#2c2c2c" stroke-width="0.06" textLength="13.59" lengthAdjust="spacingAndGlyphs">8.0</text>
<line x1="235.8" y1="472.4" x2="239.6" y2="472.4" stroke="#a2a2a2" stroke-width="1"/>
<text x="218.81" y="475.2" font-size="8.3" fill="#2c2c2c" stroke="#2c2c2c" stroke-width="0.06" textLength="13.38" lengthAdjust="spacingAndGlyphs">7.5</text>
<line x1="235.8" y1="508.5" x2="239.6" y2="508.5" stroke="#a2a2a2" stroke-width="1"/>
<text x="218.81" y="511.3" font-size="8.3" fill="#2c2c2c" stroke="#2c2c2c" stroke-width="0.06" textLength="13.33" lengthAdjust="spacingAndGlyphs">7.0</text>
<line x1="235.8" y1="544.7" x2="239.6" y2="544.7" stroke="#a2a2a2" stroke-width="1"/>
<text x="218.5" y="547.5" font-size="8.3" fill="#2c2c2c" stroke="#2c2c2c" stroke-width="0.06" textLength="13.69" lengthAdjust="spacingAndGlyphs">6.5</text>
<line x1="235.8" y1="581.2" x2="239.6" y2="581.2" stroke="#a2a2a2" stroke-width="1"/>
<text x="218.51" y="584" font-size="8.3" fill="#2c2c2c" stroke="#2c2c2c" stroke-width="0.06" textLength="13.64" lengthAdjust="spacingAndGlyphs">6.0</text>
<line x1="267.2" y1="603.8" x2="267.2" y2="607.7" stroke="#a2a2a2" stroke-width="1"/>
<line x1="307.2" y1="603.8" x2="307.2" y2="607.7" stroke="#a2a2a2" stroke-width="1"/>
<text x="237.48" y="379" font-size="10.2" fill="#2c2c2c" stroke="#2c2c2c" stroke-width="0.06" textLength="100.76" lengthAdjust="spacingAndGlyphs">Expression of <tspan font-style="italic">Cdkn1a</tspan></text>
<text x="268.59" y="398.6" font-size="8.5" fill="#2c2c2c" stroke="#2c2c2c" stroke-width="0.06" textLength="40.46" lengthAdjust="spacingAndGlyphs"><tspan font-style="italic">P</tspan> <tspan font-size="5.2" dy="-0.4">=</tspan><tspan dy="0.4">0.2086</tspan></text>
<line x1="267.1" y1="451.2" x2="267.1" y2="463.8" stroke="#a0a0a0" stroke-width="0.9"/>
<line x1="267.1" y1="502.2" x2="267.1" y2="508.5" stroke="#a0a0a0" stroke-width="0.9"/>
<line x1="260.3" y1="451.2" x2="273.9" y2="451.2" stroke="#8a8a8a" stroke-width="0.9"/>
<line x1="260.3" y1="508.5" x2="273.9" y2="508.5" stroke="#8a8a8a" stroke-width="0.9"/>
<rect x="253.6" y="463.8" width="27" height="38.4" fill="#7a4c9c" stroke="#5a5a5a" stroke-width="0.7"/>
<rect x="253.6" y="491.8" width="27" height="3.6" fill="#211d21"/>
<line x1="307.15" y1="488.7" x2="307.15" y2="492.9" stroke="#a0a0a0" stroke-width="0.9" stroke-dasharray="3 2.6"/>
<line x1="307.15" y1="528.3" x2="307.15" y2="559.3" stroke="#a0a0a0" stroke-width="0.9" stroke-dasharray="3 2.6"/>
<line x1="300.35" y1="488.7" x2="313.95" y2="488.7" stroke="#8a8a8a" stroke-width="0.9"/>
<line x1="300.35" y1="559.3" x2="313.95" y2="559.3" stroke="#8a8a8a" stroke-width="0.9"/>
<rect x="293.6" y="492.9" width="27.1" height="35.4" fill="#f6a21c" stroke="#5a5a5a" stroke-width="0.7"/>
<rect x="293.6" y="514.6" width="27.1" height="3.6" fill="#211d21"/>
<circle cx="267.1" cy="451.9" r="2.05" fill="#111" stroke="#fff" stroke-width="0.45"/>
<circle cx="272.7" cy="451.2" r="2.05" fill="#111" stroke="#fff" stroke-width="0.45"/>
<circle cx="267.1" cy="475.4" r="2.0" fill="#2a2a2a" stroke="#ffffff" stroke-width="0.9"/>
<circle cx="270.3" cy="493.4" r="2.0" fill="#2a2a2a" stroke="#ffffff" stroke-width="0.9"/>
<circle cx="267.1" cy="498" r="2.0" fill="#2a2a2a" stroke="#ffffff" stroke-width="0.9"/>
<circle cx="267.1" cy="508.5" r="2.05" fill="#111" stroke="#fff" stroke-width="0.45"/>
<circle cx="272.7" cy="506.9" r="2.05" fill="#111" stroke="#fff" stroke-width="0.45"/>
<circle cx="307.2" cy="430.2" r="2.05" fill="#111" stroke="#fff" stroke-width="0.45"/>
<circle cx="307.2" cy="488.7" r="2.05" fill="#111" stroke="#fff" stroke-width="0.45"/>
<circle cx="307.2" cy="496.9" r="2.0" fill="#2a2a2a" stroke="#ffffff" stroke-width="0.9"/>
<circle cx="307.2" cy="516.2" r="2.0" fill="#2a2a2a" stroke="#ffffff" stroke-width="0.9"/>
<circle cx="307.2" cy="522.5" r="2.0" fill="#2a2a2a" stroke="#ffffff" stroke-width="0.9"/>
<circle cx="307.2" cy="534.1" r="2.05" fill="#111" stroke="#fff" stroke-width="0.45"/>
<circle cx="307.2" cy="559.3" r="2.05" fill="#111" stroke="#fff" stroke-width="0.45"/>
<text x="211.4" y="569.63" font-size="10.3" fill="#2c2c2c" stroke="#2c2c2c" stroke-width="0.06" textLength="148.61" lengthAdjust="spacingAndGlyphs" transform="rotate(-90 211.4 569.63)">DESeq2 normalized log<tspan font-size="7" dy="1.6">2</tspan><tspan dy="-1.6"> counts</tspan></text>
<text x="270" y="618.7" font-size="8.4" fill="#2c2c2c" stroke="#2c2c2c" stroke-width="0.06" text-anchor="end" transform="rotate(-45 270 618.7)">FMT-YF</text>
<text x="277.3" y="626.2" font-size="8.6" fill="#2c2c2c" stroke="#2c2c2c" stroke-width="0.06" text-anchor="end" transform="rotate(-45 277.3 626.2)">(<tspan font-style="italic">n</tspan> = 7)</text>
<text x="310" y="618.7" font-size="8.4" fill="#2c2c2c" stroke="#2c2c2c" stroke-width="0.06" text-anchor="end" transform="rotate(-45 310 618.7)">FMT-EF</text>
<text x="317.3" y="626.2" font-size="8.6" fill="#2c2c2c" stroke="#2c2c2c" stroke-width="0.06" text-anchor="end" transform="rotate(-45 317.3 626.2)">(<tspan font-style="italic">n</tspan> = 7)</text>
<rect x="426.3" y="386.1" width="93.7" height="217.7" fill="none" stroke="#a2a2a2" stroke-width="1.1"/>
<line x1="422.5" y1="420.5" x2="426.3" y2="420.5" stroke="#a2a2a2" stroke-width="1"/>
<text x="405.26" y="423.3" font-size="8.3" fill="#2c2c2c" stroke="#2c2c2c" stroke-width="0.06" textLength="13.59" lengthAdjust="spacingAndGlyphs">8.0</text>
<line x1="422.5" y1="456.1" x2="426.3" y2="456.1" stroke="#a2a2a2" stroke-width="1"/>
<text x="405.51" y="458.9" font-size="8.3" fill="#2c2c2c" stroke="#2c2c2c" stroke-width="0.06" textLength="13.38" lengthAdjust="spacingAndGlyphs">7.5</text>
<line x1="422.5" y1="491.5" x2="426.3" y2="491.5" stroke="#a2a2a2" stroke-width="1"/>
<text x="405.51" y="494.3" font-size="8.3" fill="#2c2c2c" stroke="#2c2c2c" stroke-width="0.06" textLength="13.33" lengthAdjust="spacingAndGlyphs">7.0</text>
<line x1="422.5" y1="526.8" x2="426.3" y2="526.8" stroke="#a2a2a2" stroke-width="1"/>
<text x="405.2" y="529.6" font-size="8.3" fill="#2c2c2c" stroke="#2c2c2c" stroke-width="0.06" textLength="13.69" lengthAdjust="spacingAndGlyphs">6.5</text>
<line x1="422.5" y1="562.2" x2="426.3" y2="562.2" stroke="#a2a2a2" stroke-width="1"/>
<text x="405.21" y="565" font-size="8.3" fill="#2c2c2c" stroke="#2c2c2c" stroke-width="0.06" textLength="13.64" lengthAdjust="spacingAndGlyphs">6.0</text>
<line x1="422.5" y1="597.6" x2="426.3" y2="597.6" stroke="#a2a2a2" stroke-width="1"/>
<text x="405.31" y="600.4" font-size="8.3" fill="#2c2c2c" stroke="#2c2c2c" stroke-width="0.06" textLength="13.59" lengthAdjust="spacingAndGlyphs">5.5</text>
<line x1="453.3" y1="603.8" x2="453.3" y2="607.7" stroke="#a2a2a2" stroke-width="1"/>
<line x1="493.5" y1="603.8" x2="493.5" y2="607.7" stroke="#a2a2a2" stroke-width="1"/>
<text x="431.68" y="379" font-size="10.2" fill="#2c2c2c" stroke="#2c2c2c" stroke-width="0.06" textLength="81.81" lengthAdjust="spacingAndGlyphs">Expression of <tspan font-style="italic">Il1a</tspan></text>
<text x="452.88" y="398.6" font-size="8.5" fill="#2c2c2c" stroke="#2c2c2c" stroke-width="0.06" textLength="41.02" lengthAdjust="spacingAndGlyphs"><tspan font-style="italic">P</tspan> <tspan font-size="5.2" dy="-0.4">=</tspan><tspan dy="0.4">0.0041</tspan></text>
<line x1="453.15" y1="429.3" x2="453.15" y2="464.7" stroke="#a0a0a0" stroke-width="0.9" stroke-dasharray="3 2.6"/>
<line x1="453.15" y1="500.8" x2="453.15" y2="515.4" stroke="#a0a0a0" stroke-width="0.9" stroke-dasharray="3 2.6"/>
<line x1="446.35" y1="429.3" x2="459.95" y2="429.3" stroke="#8a8a8a" stroke-width="0.9"/>
<line x1="446.35" y1="515.4" x2="459.95" y2="515.4" stroke="#8a8a8a" stroke-width="0.9"/>
<rect x="439.4" y="464.7" width="27.5" height="36.1" fill="#7a4c9c" stroke="#5a5a5a" stroke-width="0.7"/>
<rect x="439.4" y="470.3" width="27.5" height="3.6" fill="#211d21"/>
<line x1="493.3" y1="512.5" x2="493.3" y2="515.3" stroke="#a0a0a0" stroke-width="0.9"/>
<line x1="493.3" y1="545.1" x2="493.3" y2="560.4" stroke="#a0a0a0" stroke-width="0.9"/>
<line x1="486.5" y1="512.5" x2="500.1" y2="512.5" stroke="#8a8a8a" stroke-width="0.9"/>
<line x1="486.5" y1="560.4" x2="500.1" y2="560.4" stroke="#8a8a8a" stroke-width="0.9"/>
<rect x="479.7" y="515.3" width="27.2" height="29.8" fill="#f6a21c" stroke="#5a5a5a" stroke-width="0.7"/>
<rect x="479.7" y="515.8" width="27.2" height="3.6" fill="#211d21"/>
<circle cx="452.9" cy="429.3" r="2.05" fill="#111" stroke="#fff" stroke-width="0.45"/>
<circle cx="452.9" cy="462.2" r="2.05" fill="#111" stroke="#fff" stroke-width="0.45"/>
<circle cx="456.2" cy="467.3" r="2.05" fill="#111" stroke="#fff" stroke-width="0.45"/>
<circle cx="452.9" cy="472.4" r="2.0" fill="#2a2a2a" stroke="#ffffff" stroke-width="0.9"/>
<circle cx="452.9" cy="487.6" r="2.0" fill="#2a2a2a" stroke="#ffffff" stroke-width="0.9"/>
<circle cx="452.9" cy="515.4" r="2.05" fill="#111" stroke="#fff" stroke-width="0.45"/>
<circle cx="458.3" cy="514.2" r="2.05" fill="#111" stroke="#fff" stroke-width="0.45"/>
<circle cx="489" cy="514.4" r="2.05" fill="#111" stroke="#fff" stroke-width="0.45"/>
<circle cx="493.7" cy="517.6" r="2.0" fill="#2a2a2a" stroke="#ffffff" stroke-width="0.9"/>
<circle cx="498.3" cy="516.7" r="2.0" fill="#2a2a2a" stroke="#ffffff" stroke-width="0.9"/>
<circle cx="502.7" cy="512.5" r="2.05" fill="#111" stroke="#fff" stroke-width="0.45"/>
<circle cx="497.2" cy="543.3" r="2.05" fill="#111" stroke="#fff" stroke-width="0.45"/>
<circle cx="493.2" cy="547.3" r="2.05" fill="#111" stroke="#fff" stroke-width="0.45"/>
<circle cx="493.2" cy="560.4" r="2.05" fill="#111" stroke="#fff" stroke-width="0.45"/>
<text x="396.4" y="569.63" font-size="10.3" fill="#2c2c2c" stroke="#2c2c2c" stroke-width="0.06" textLength="148.61" lengthAdjust="spacingAndGlyphs" transform="rotate(-90 396.4 569.63)">DESeq2 normalized log<tspan font-size="7" dy="1.6">2</tspan><tspan dy="-1.6"> counts</tspan></text>
<text x="456.1" y="618.7" font-size="8.4" fill="#2c2c2c" stroke="#2c2c2c" stroke-width="0.06" text-anchor="end" transform="rotate(-45 456.1 618.7)">FMT-YF</text>
<text x="463.4" y="626.2" font-size="8.6" fill="#2c2c2c" stroke="#2c2c2c" stroke-width="0.06" text-anchor="end" transform="rotate(-45 463.4 626.2)">(<tspan font-style="italic">n</tspan> = 7)</text>
<text x="496.3" y="618.7" font-size="8.4" fill="#2c2c2c" stroke="#2c2c2c" stroke-width="0.06" text-anchor="end" transform="rotate(-45 496.3 618.7)">FMT-EF</text>
<text x="503.6" y="626.2" font-size="8.6" fill="#2c2c2c" stroke="#2c2c2c" stroke-width="0.06" text-anchor="end" transform="rotate(-45 503.6 626.2)">(<tspan font-style="italic">n</tspan> = 7)</text>
</g>
</svg>
</body></html>
